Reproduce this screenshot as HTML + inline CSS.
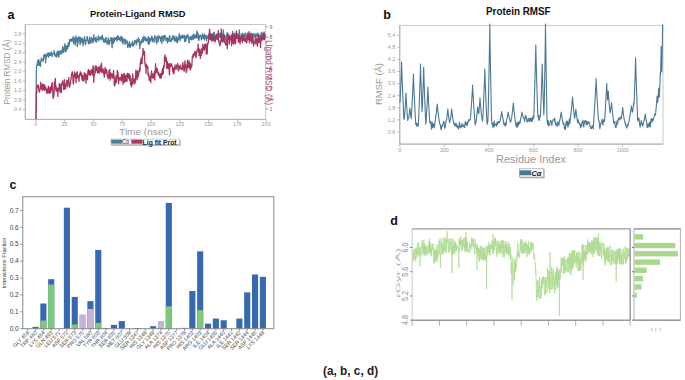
<!DOCTYPE html>
<html><head><meta charset="utf-8"><style>
html,body{margin:0;padding:0;background:#fff;}
body{width:685px;height:380px;overflow:hidden;}
svg{display:block;font-family:"Liberation Sans",sans-serif;}
#w{width:685px;height:380px;}
</style></head><body>
<div id="w"><svg width="685" height="380" viewBox="0 0 685 380">
<defs><filter id="sh" x="-10%" y="-30%" width="130%" height="190%"><feDropShadow dx="0.8" dy="0.9" stdDeviation="0.4" flood-color="#888" flood-opacity="0.7"/></filter></defs>
<rect width="685" height="380" fill="#fff"/>
<text x="7.6" y="19" font-size="12.5" fill="#111" font-weight="bold" text-anchor="start" >a</text>
<text x="137.8" y="17.1" font-size="8.6" fill="#111" font-weight="bold" text-anchor="middle" textLength="95.5" lengthAdjust="spacingAndGlyphs" >Protein-Ligand RMSD</text>
<rect x="25.3" y="24.5" width="240.3" height="94.9" fill="none" stroke="#c8c8c8" stroke-width="1"/>
<path d="M25.3 24.5 V119.4 H265.6" fill="none" stroke="#b0b0b0" stroke-width="1"/>
<line x1="22.8" y1="109.61" x2="25.3" y2="109.61" stroke="#aaa" stroke-width="0.8"/>
<text x="21.3" y="111.41" font-size="5.2" fill="#9a9a9a" font-weight="normal" text-anchor="end" >0.4</text>
<line x1="22.8" y1="100.12" x2="25.3" y2="100.12" stroke="#aaa" stroke-width="0.8"/>
<text x="21.3" y="101.92" font-size="5.2" fill="#9a9a9a" font-weight="normal" text-anchor="end" >0.8</text>
<line x1="22.8" y1="90.64" x2="25.3" y2="90.64" stroke="#aaa" stroke-width="0.8"/>
<text x="21.3" y="92.44" font-size="5.2" fill="#9a9a9a" font-weight="normal" text-anchor="end" >1.2</text>
<line x1="22.8" y1="81.15" x2="25.3" y2="81.15" stroke="#aaa" stroke-width="0.8"/>
<text x="21.3" y="82.95" font-size="5.2" fill="#9a9a9a" font-weight="normal" text-anchor="end" >1.6</text>
<line x1="22.8" y1="71.66" x2="25.3" y2="71.66" stroke="#aaa" stroke-width="0.8"/>
<text x="21.3" y="73.46" font-size="5.2" fill="#9a9a9a" font-weight="normal" text-anchor="end" >2.0</text>
<line x1="22.8" y1="62.17" x2="25.3" y2="62.17" stroke="#aaa" stroke-width="0.8"/>
<text x="21.3" y="63.97" font-size="5.2" fill="#9a9a9a" font-weight="normal" text-anchor="end" >2.4</text>
<line x1="22.8" y1="52.68" x2="25.3" y2="52.68" stroke="#aaa" stroke-width="0.8"/>
<text x="21.3" y="54.48" font-size="5.2" fill="#9a9a9a" font-weight="normal" text-anchor="end" >2.8</text>
<line x1="22.8" y1="43.2" x2="25.3" y2="43.2" stroke="#aaa" stroke-width="0.8"/>
<text x="21.3" y="45" font-size="5.2" fill="#9a9a9a" font-weight="normal" text-anchor="end" >3.2</text>
<line x1="22.8" y1="33.71" x2="25.3" y2="33.71" stroke="#aaa" stroke-width="0.8"/>
<text x="21.3" y="35.51" font-size="5.2" fill="#9a9a9a" font-weight="normal" text-anchor="end" >3.6</text>
<line x1="265.6" y1="108.93" x2="268.1" y2="108.93" stroke="#b07090" stroke-width="0.8"/>
<text x="269.6" y="110.73" font-size="5.2" fill="#a0506e" font-weight="normal" text-anchor="start" >1</text>
<line x1="265.6" y1="98.66" x2="268.1" y2="98.66" stroke="#b07090" stroke-width="0.8"/>
<text x="269.6" y="100.46" font-size="5.2" fill="#a0506e" font-weight="normal" text-anchor="start" >2</text>
<line x1="265.6" y1="88.39" x2="268.1" y2="88.39" stroke="#b07090" stroke-width="0.8"/>
<text x="269.6" y="90.19" font-size="5.2" fill="#a0506e" font-weight="normal" text-anchor="start" >3</text>
<line x1="265.6" y1="78.12" x2="268.1" y2="78.12" stroke="#b07090" stroke-width="0.8"/>
<text x="269.6" y="79.92" font-size="5.2" fill="#a0506e" font-weight="normal" text-anchor="start" >4</text>
<line x1="265.6" y1="67.85" x2="268.1" y2="67.85" stroke="#b07090" stroke-width="0.8"/>
<text x="269.6" y="69.65" font-size="5.2" fill="#a0506e" font-weight="normal" text-anchor="start" >5</text>
<line x1="265.6" y1="57.58" x2="268.1" y2="57.58" stroke="#b07090" stroke-width="0.8"/>
<text x="269.6" y="59.38" font-size="5.2" fill="#a0506e" font-weight="normal" text-anchor="start" >6</text>
<line x1="265.6" y1="47.31" x2="268.1" y2="47.31" stroke="#b07090" stroke-width="0.8"/>
<text x="269.6" y="49.11" font-size="5.2" fill="#a0506e" font-weight="normal" text-anchor="start" >7</text>
<line x1="265.6" y1="37.04" x2="268.1" y2="37.04" stroke="#b07090" stroke-width="0.8"/>
<text x="269.6" y="38.84" font-size="5.2" fill="#a0506e" font-weight="normal" text-anchor="start" >8</text>
<line x1="265.6" y1="26.77" x2="268.1" y2="26.77" stroke="#b07090" stroke-width="0.8"/>
<text x="269.6" y="28.57" font-size="5.2" fill="#a0506e" font-weight="normal" text-anchor="start" >9</text>
<line x1="35.8" y1="119.4" x2="35.8" y2="121.9" stroke="#aaa" stroke-width="0.8"/>
<text x="35.8" y="126.3" font-size="5.2" fill="#9a9a9a" font-weight="normal" text-anchor="middle" >0</text>
<line x1="64.6" y1="119.4" x2="64.6" y2="121.9" stroke="#aaa" stroke-width="0.8"/>
<text x="64.6" y="126.3" font-size="5.2" fill="#9a9a9a" font-weight="normal" text-anchor="middle" >25</text>
<line x1="93.4" y1="119.4" x2="93.4" y2="121.9" stroke="#aaa" stroke-width="0.8"/>
<text x="93.4" y="126.3" font-size="5.2" fill="#9a9a9a" font-weight="normal" text-anchor="middle" >50</text>
<line x1="122.2" y1="119.4" x2="122.2" y2="121.9" stroke="#aaa" stroke-width="0.8"/>
<text x="122.2" y="126.3" font-size="5.2" fill="#9a9a9a" font-weight="normal" text-anchor="middle" >75</text>
<line x1="151" y1="119.4" x2="151" y2="121.9" stroke="#aaa" stroke-width="0.8"/>
<text x="151" y="126.3" font-size="5.2" fill="#9a9a9a" font-weight="normal" text-anchor="middle" >100</text>
<line x1="179.8" y1="119.4" x2="179.8" y2="121.9" stroke="#aaa" stroke-width="0.8"/>
<text x="179.8" y="126.3" font-size="5.2" fill="#9a9a9a" font-weight="normal" text-anchor="middle" >125</text>
<line x1="208.6" y1="119.4" x2="208.6" y2="121.9" stroke="#aaa" stroke-width="0.8"/>
<text x="208.6" y="126.3" font-size="5.2" fill="#9a9a9a" font-weight="normal" text-anchor="middle" >150</text>
<line x1="237.4" y1="119.4" x2="237.4" y2="121.9" stroke="#aaa" stroke-width="0.8"/>
<text x="237.4" y="126.3" font-size="5.2" fill="#9a9a9a" font-weight="normal" text-anchor="middle" >175</text>
<line x1="266.2" y1="119.4" x2="266.2" y2="121.9" stroke="#aaa" stroke-width="0.8"/>
<text x="266.2" y="126.3" font-size="5.2" fill="#9a9a9a" font-weight="normal" text-anchor="middle" >200</text>
<text x="145.4" y="135.2" font-size="9.5" fill="#9a9a9a" font-weight="normal" text-anchor="middle" textLength="52.5" lengthAdjust="spacingAndGlyphs" >Time (nsec)</text>
<text transform="translate(9.9 72) rotate(-90)" x="0" y="0" font-size="9.6" fill="#9a9a9a" text-anchor="middle" textLength="65" lengthAdjust="spacingAndGlyphs">Protein RMSD (Å)</text>
<text transform="translate(266.3 72.5) rotate(90)" x="0" y="0" font-size="9.6" fill="#a0506e" text-anchor="middle" textLength="65" lengthAdjust="spacingAndGlyphs">Ligand RMSD (Å)</text>
<path d="M36 119 L36.3 75 L36.6 65.61 L36.85 65.4 L37.1 65.81 L37.35 63.32 L37.6 60.69 L37.85 62.07 L38.1 63.51 L38.35 65.16 L38.6 61.15 L38.85 59.51 L39.1 62.75 L39.35 63.36 L39.6 65.55 L39.85 65.16 L40.1 62.78 L40.35 61.42 L40.6 66.33 L40.85 62.31 L41.1 59.78 L41.35 58.04 L41.6 59.67 L41.85 60.18 L42.1 59.24 L42.35 59.3 L42.6 59.81 L42.85 60.64 L43.1 61.56 L43.35 59.99 L43.6 55.38 L43.85 58.46 L44.1 55.24 L44.35 56.38 L44.6 54.08 L44.85 55.99 L45.1 55 L45.35 56.46 L45.6 62.87 L45.85 58.45 L46.1 58.51 L46.35 54.17 L46.6 54.55 L46.85 56.4 L47.1 55.45 L47.35 55.89 L47.6 55.39 L47.85 52.92 L48.1 54.99 L48.35 52.9 L48.6 57.27 L48.85 54.04 L49.1 55.1 L49.35 54.01 L49.6 55.35 L49.85 52.66 L50.1 54.79 L50.35 53.38 L50.6 55.6 L50.85 55.13 L51.1 54.02 L51.35 51.84 L51.6 54.09 L51.85 54.29 L52.1 56.65 L52.35 53.54 L52.6 54.27 L52.85 54.44 L53.1 54.05 L53.35 53.78 L53.6 53.63 L53.85 52.05 L54.1 50.69 L54.35 51.42 L54.6 53.6 L54.85 56.16 L55.1 55.99 L55.35 56.04 L55.6 55.48 L55.85 55.1 L56.1 53.93 L56.35 54.64 L56.6 56.81 L56.85 53.44 L57.1 51.51 L57.35 55.98 L57.6 54.16 L57.85 54.91 L58.1 54.95 L58.35 51.02 L58.6 56.57 L58.85 57.19 L59.1 54.26 L59.35 54.33 L59.6 53.1 L59.85 50.66 L60.1 51.22 L60.35 52.21 L60.6 53.87 L60.85 53.52 L61.1 52.01 L61.35 53.87 L61.6 50.27 L61.85 51.91 L62.1 52.97 L62.35 50.48 L62.6 46.55 L62.85 46.77 L63.1 48.95 L63.35 50.15 L63.6 52.43 L63.85 48.12 L64.1 48.44 L64.35 49.69 L64.6 48.42 L64.85 43.53 L65.1 47.83 L65.35 52.03 L65.6 50.73 L65.85 46.31 L66.1 45.54 L66.35 46.28 L66.6 50.75 L66.85 48.45 L67.1 46.44 L67.35 48.34 L67.6 45.59 L67.85 48.2 L68.1 43.96 L68.35 42.75 L68.6 44.49 L68.85 46.31 L69.1 45.28 L69.35 44.07 L69.6 39.35 L69.85 39.69 L70.1 39.77 L70.35 39.63 L70.6 41.48 L70.85 40.04 L71.1 41.45 L71.35 40.28 L71.6 38.78 L71.85 38.84 L72.1 39.45 L72.35 40.77 L72.6 38.76 L72.85 38.67 L73.1 36.57 L73.35 41.76 L73.6 43.41 L73.85 40.94 L74.1 39.63 L74.35 37.83 L74.6 40.08 L74.85 41.07 L75.1 45.32 L75.35 42.99 L75.6 40.18 L75.85 35.95 L76.1 41.98 L76.35 41.71 L76.6 38.11 L76.85 40.34 L77.1 37.63 L77.35 46.61 L77.6 45.14 L77.85 43.57 L78.1 41.56 L78.35 37.02 L78.6 39.36 L78.85 37.4 L79.1 40.9 L79.35 36.79 L79.6 37.76 L79.85 42.24 L80.1 44.64 L80.35 39.97 L80.6 37.65 L80.85 41.54 L81.1 42.85 L81.35 39.72 L81.6 39.2 L81.85 39.02 L82.1 37.99 L82.35 38.62 L82.6 42.61 L82.85 42.91 L83.1 45.68 L83.35 42.47 L83.6 41.25 L83.85 39.17 L84.1 40.12 L84.35 38.13 L84.6 36.53 L84.85 40.79 L85.1 43.74 L85.35 43.59 L85.6 44.5 L85.85 42.72 L86.1 40.2 L86.35 40.89 L86.6 40.23 L86.85 38.56 L87.1 36.85 L87.35 36.66 L87.6 39.47 L87.85 40.76 L88.1 39.99 L88.35 43.43 L88.6 42.2 L88.85 42.56 L89.1 43.92 L89.35 40.42 L89.6 36.96 L89.85 41.05 L90.1 39.65 L90.35 42.99 L90.6 42.21 L90.85 43.19 L91.1 43.02 L91.35 37.36 L91.6 40.79 L91.85 39.23 L92.1 38.47 L92.35 38.78 L92.6 41.19 L92.85 42.21 L93.1 42.76 L93.35 37.7 L93.6 37.97 L93.85 34.53 L94.1 37.71 L94.35 40.14 L94.6 38.29 L94.85 39.56 L95.1 39.92 L95.35 41.52 L95.6 38.46 L95.85 37.33 L96.1 37.01 L96.35 41.76 L96.6 42.08 L96.85 39.77 L97.1 39.6 L97.35 39.27 L97.6 39.28 L97.85 38.44 L98.1 37.84 L98.35 35.79 L98.6 36.22 L98.85 40.79 L99.1 40.17 L99.35 38.99 L99.6 37.98 L99.85 38.12 L100.1 38.77 L100.35 37.2 L100.6 38.39 L100.85 38.99 L101.1 37.37 L101.35 36.82 L101.6 36.32 L101.85 36.11 L102.1 39.95 L102.35 35.05 L102.6 37.51 L102.85 37.8 L103.1 37.98 L103.35 39.54 L103.6 42.2 L103.85 41.17 L104.1 40.49 L104.35 39.43 L104.6 40.09 L104.85 42.46 L105.1 40.79 L105.35 38.75 L105.6 37.84 L105.85 37.87 L106.1 37.35 L106.35 42.06 L106.6 42.29 L106.85 41.25 L107.1 44.22 L107.35 41.17 L107.6 42.88 L107.85 43.61 L108.1 39.32 L108.35 37.83 L108.6 38.57 L108.85 42.43 L109.1 44.58 L109.35 40.44 L109.6 43.46 L109.85 41.76 L110.1 41.12 L110.35 40.47 L110.6 40.62 L110.85 37.68 L111.1 38.18 L111.35 37.82 L111.6 40.99 L111.85 45.14 L112.1 47.77 L112.35 42.64 L112.6 38.07 L112.85 38.96 L113.1 38.16 L113.35 43.5 L113.6 42.55 L113.85 39.61 L114.1 41.75 L114.35 41.65 L114.6 37.32 L114.85 37.87 L115.1 38.56 L115.35 39.23 L115.6 39.61 L115.85 38.75 L116.1 39.41 L116.35 38.05 L116.6 36.9 L116.85 41.13 L117.1 40.28 L117.35 40.06 L117.6 35.95 L117.85 37.22 L118.1 39.52 L118.35 36.13 L118.6 39.53 L118.85 37.75 L119.1 38.6 L119.35 37.77 L119.6 38.1 L119.85 40.06 L120.1 37.68 L120.35 40.9 L120.6 37.59 L120.85 36.29 L121.1 39.19 L121.35 36.88 L121.6 37.58 L121.85 40.46 L122.1 42.2 L122.35 37.14 L122.6 39.96 L122.85 43.78 L123.1 43.92 L123.35 41.32 L123.6 39.85 L123.85 40.08 L124.1 38.63 L124.35 40 L124.6 40.78 L124.85 41.28 L125.1 44.16 L125.35 42.5 L125.6 39.62 L125.85 43.6 L126.1 40.95 L126.35 41.34 L126.6 42.18 L126.85 42.17 L127.1 40.97 L127.35 42.12 L127.6 47.37 L127.85 43.86 L128.1 43.65 L128.35 46.13 L128.6 46.35 L128.85 46.57 L129.1 46.93 L129.35 41.64 L129.6 42.03 L129.85 44.21 L130.1 45.67 L130.35 47.57 L130.6 46.53 L130.85 44.69 L131.1 44.49 L131.35 43.83 L131.6 44.4 L131.85 45.33 L132.1 43.58 L132.35 41.95 L132.6 41.2 L132.85 44.64 L133.1 46.11 L133.35 45.96 L133.6 45.55 L133.85 45.26 L134.1 43.44 L134.35 44 L134.6 40.75 L134.85 41.17 L135.1 40.23 L135.35 42.73 L135.6 41.03 L135.85 41.32 L136.1 42.38 L136.35 44.58 L136.6 41.13 L136.85 39.61 L137.1 42.47 L137.35 39.68 L137.6 41.72 L137.85 40.4 L138.1 40.81 L138.35 37.58 L138.6 41.36 L138.85 40.28 L139.1 39.1 L139.35 44.45 L139.6 43.63 L139.85 48.76 L140.1 44.49 L140.35 41.51 L140.6 41.34 L140.85 44.19 L141.1 41.98 L141.35 42.13 L141.6 42.29 L141.85 39.55 L142.1 40.6 L142.35 39.72 L142.6 37.94 L142.85 41.44 L143.1 42.24 L143.35 41.35 L143.6 39.11 L143.85 36.17 L144.1 39.98 L144.35 40.16 L144.6 37.12 L144.85 39.2 L145.1 37.06 L145.35 39.21 L145.6 40.28 L145.85 41.05 L146.1 41.04 L146.35 40.92 L146.6 38.31 L146.85 38.86 L147.1 38.78 L147.35 39.28 L147.6 40.42 L147.85 41.49 L148.1 43.82 L148.35 36.43 L148.6 39.61 L148.85 39.54 L149.1 44.33 L149.35 43.37 L149.6 37.97 L149.85 40.07 L150.1 39 L150.35 41.55 L150.6 38.44 L150.85 39.19 L151.1 39.38 L151.35 39.5 L151.6 38.57 L151.85 35.79 L152.1 39.28 L152.35 41.53 L152.6 40.23 L152.85 37.9 L153.1 39.45 L153.35 40.68 L153.6 39.65 L153.85 39.59 L154.1 42.33 L154.35 38.34 L154.6 38.02 L154.85 35.27 L155.1 36.64 L155.35 37.03 L155.6 36.71 L155.85 37.11 L156.1 42.09 L156.35 39.93 L156.6 39.31 L156.85 43.59 L157.1 40.67 L157.35 36.37 L157.6 39.01 L157.85 37.31 L158.1 41.72 L158.35 37.62 L158.6 37.47 L158.85 35.4 L159.1 37.98 L159.35 36.7 L159.6 38.08 L159.85 37.95 L160.1 37.43 L160.35 40.27 L160.6 41.25 L160.85 39.88 L161.1 37.51 L161.35 36.34 L161.6 38.54 L161.85 43.44 L162.1 39.59 L162.35 37.6 L162.6 37.06 L162.85 36.09 L163.1 35.98 L163.35 37.43 L163.6 41.13 L163.85 39.61 L164.1 38.08 L164.35 35.38 L164.6 38 L164.85 38.43 L165.1 36.24 L165.35 35.74 L165.6 37.59 L165.85 40.29 L166.1 40.47 L166.35 39.7 L166.6 38.4 L166.85 39.19 L167.1 38.81 L167.35 42.93 L167.6 37.91 L167.85 37.64 L168.1 40.73 L168.35 38.81 L168.6 41.43 L168.85 39.47 L169.1 39.15 L169.35 38.02 L169.6 35.65 L169.85 35.61 L170.1 41.8 L170.35 40.9 L170.6 40.5 L170.85 41.03 L171.1 40.45 L171.35 41.13 L171.6 38.84 L171.85 38.12 L172.1 40.21 L172.35 38.33 L172.6 35.76 L172.85 37 L173.1 36.81 L173.35 38.99 L173.6 37.15 L173.85 35.83 L174.1 36.78 L174.35 40.78 L174.6 39.05 L174.85 38.84 L175.1 38.47 L175.35 38.89 L175.6 40.26 L175.85 41.64 L176.1 36.19 L176.35 40.14 L176.6 38.85 L176.85 37.77 L177.1 42.69 L177.35 39.39 L177.6 42.35 L177.85 41.48 L178.1 37.27 L178.35 38.74 L178.6 39.74 L178.85 38.4 L179.1 33.62 L179.35 35.81 L179.6 36.87 L179.85 35.45 L180.1 40.66 L180.35 38.44 L180.6 37.36 L180.85 37.16 L181.1 36.14 L181.35 35.79 L181.6 37.35 L181.85 38.32 L182.1 37.05 L182.35 37.41 L182.6 34.99 L182.85 37.87 L183.1 36.39 L183.35 37.74 L183.6 36.02 L183.85 36.17 L184.1 37.64 L184.35 35.37 L184.6 41.74 L184.85 39.08 L185.1 38.06 L185.35 36.41 L185.6 40.37 L185.85 41.34 L186.1 39.55 L186.35 35.66 L186.6 35.98 L186.85 38.27 L187.1 36.86 L187.35 35.05 L187.6 34.4 L187.85 34.98 L188.1 36.7 L188.35 36 L188.6 37.05 L188.85 42.82 L189.1 42.84 L189.35 37.36 L189.6 38.13 L189.85 37.89 L190.1 37.36 L190.35 39.47 L190.6 37.52 L190.85 36.84 L191.1 36.5 L191.35 36.91 L191.6 39.74 L191.85 39.73 L192.1 35.59 L192.35 35.89 L192.6 35.29 L192.85 38.22 L193.1 38.09 L193.35 39.33 L193.6 37.9 L193.85 33.79 L194.1 36.94 L194.35 37.6 L194.6 38.37 L194.85 35.1 L195.1 36.65 L195.35 35.68 L195.6 35.34 L195.85 37.24 L196.1 37.89 L196.35 35.69 L196.6 33.31 L196.85 30.98 L197.1 33.86 L197.35 38.17 L197.6 37.38 L197.85 32.81 L198.1 33.91 L198.35 36.79 L198.6 40.23 L198.85 40.44 L199.1 38.94 L199.35 38.08 L199.6 35.32 L199.85 35.53 L200.1 35.83 L200.35 35.06 L200.6 36.42 L200.85 36 L201.1 37.27 L201.35 39.84 L201.6 39.38 L201.85 38.58 L202.1 37.01 L202.35 33.96 L202.6 35.62 L202.85 37.48 L203.1 35.1 L203.35 38.67 L203.6 36.81 L203.85 37.53 L204.1 36.41 L204.35 34.2 L204.6 39.9 L204.85 35.59 L205.1 38.13 L205.35 36.13 L205.6 37.05 L205.85 35.25 L206.1 35.37 L206.35 38.01 L206.6 40.93 L206.85 36.5 L207.1 36.61 L207.35 38.47 L207.6 36.03 L207.85 37.79 L208.1 35.48 L208.35 37.37 L208.6 37.7 L208.85 39.32 L209.1 38.22 L209.35 34.79 L209.6 37.21 L209.85 34.6 L210.1 37.29 L210.35 39.71 L210.6 38.76 L210.85 36.18 L211.1 38.67 L211.35 37.54 L211.6 34.38 L211.85 35 L212.1 38.67 L212.35 36.59 L212.6 36.68 L212.85 35.8 L213.1 32.86 L213.35 34.12 L213.6 36.24 L213.85 36.69 L214.1 36.09 L214.35 32.05 L214.6 37.17 L214.85 37.98 L215.1 38.84 L215.35 39.68 L215.6 36.56 L215.85 35.15 L216.1 36.44 L216.35 39.53 L216.6 34.05 L216.85 34.97 L217.1 34.33 L217.35 36.59 L217.6 39.14 L217.85 36.59 L218.1 33.84 L218.35 35.39 L218.6 35.27 L218.85 32.77 L219.1 36.62 L219.35 35.21 L219.6 37.07 L219.85 33.81 L220.1 37.37 L220.35 33.67 L220.6 37.24 L220.85 32.9 L221.1 37.61 L221.35 35.83 L221.6 32.91 L221.85 34.46 L222.1 36.12 L222.35 34.11 L222.6 34.38 L222.85 35.96 L223.1 35.66 L223.35 29.9 L223.6 33.03 L223.85 35.79 L224.1 36.51 L224.35 38.15 L224.6 35.4 L224.85 40.77 L225.1 39.23 L225.35 37.74 L225.6 38.72 L225.85 38.81 L226.1 37.18 L226.35 35.2 L226.6 37.72 L226.85 37.43 L227.1 32.81 L227.35 32.73 L227.6 35.77 L227.85 36.13 L228.1 36.59 L228.35 37.46 L228.6 36.79 L228.85 39.36 L229.1 36.03 L229.35 35.23 L229.6 36.36 L229.85 37.58 L230.1 38.09 L230.35 39.63 L230.6 36.34 L230.85 38.4 L231.1 37.75 L231.35 34.58 L231.6 35.24 L231.85 39.8 L232.1 38.86 L232.35 36.09 L232.6 31.35 L232.85 32.94 L233.1 33.56 L233.35 35.3 L233.6 40.26 L233.85 38.95 L234.1 37.64 L234.35 34.75 L234.6 33.25 L234.85 34.63 L235.1 34.61 L235.35 41.38 L235.6 37.09 L235.85 35.18 L236.1 37.91 L236.35 36.82 L236.6 33.88 L236.85 37.77 L237.1 36.01 L237.35 33.41 L237.6 35.72 L237.85 36.85 L238.1 35.64 L238.35 37.23 L238.6 38.03 L238.85 34.99 L239.1 31.63 L239.35 29.81 L239.6 33.58 L239.85 37.55 L240.1 38.49 L240.35 39.57 L240.6 40.85 L240.85 37.69 L241.1 38.61 L241.35 33.88 L241.6 36.55 L241.85 36.89 L242.1 36.06 L242.35 35.08 L242.6 33.41 L242.85 35.27 L243.1 38.13 L243.35 35.92 L243.6 36.89 L243.85 34.88 L244.1 35.97 L244.35 33.88 L244.6 35.84 L244.85 35.36 L245.1 36.22 L245.35 34.72 L245.6 33.07 L245.85 34.14 L246.1 37.17 L246.35 39.28 L246.6 36.29 L246.85 37.43 L247.1 37.75 L247.35 37.13 L247.6 33.12 L247.85 35.36 L248.1 33.62 L248.35 37.18 L248.6 37.67 L248.85 37.5 L249.1 31.28 L249.35 35.25 L249.6 36.79 L249.85 33.46 L250.1 36.68 L250.35 36.08 L250.6 35.37 L250.85 34.1 L251.1 33.06 L251.35 33.85 L251.6 41 L251.85 37.88 L252.1 36.81 L252.35 34.78 L252.6 34.13 L252.85 34.04 L253.1 33.37 L253.35 36.57 L253.6 35.47 L253.85 37.31 L254.1 34.02 L254.35 36.94 L254.6 36.1 L254.85 37.18 L255.1 36.05 L255.35 34.14 L255.6 37.57 L255.85 35.57 L256.1 35.44 L256.35 33.96 L256.6 35.58 L256.85 34.99 L257.1 36.11 L257.35 36.63 L257.6 34.8 L257.85 32.77 L258.1 35.65 L258.35 37.62 L258.6 37.88 L258.85 34.39 L259.1 36.59 L259.35 36.94 L259.6 36.87 L259.85 37.14 L260.1 35.77 L260.35 36.34 L260.6 37.93 L260.85 35.69 L261.1 33.08 L261.35 34.77 L261.6 35.95 L261.85 32.39 L262.1 33.42 L262.35 36.24 L262.6 35.79 L262.85 36.11 L263.1 33.58 L263.35 36.92 L263.6 39.74 L263.85 36.92 L264.1 34.89 L264.35 33.36 L264.6 36.81 L264.85 36.49 L265.1 34.62 L265.35 37.88" fill="none" stroke="#4d7b98" stroke-width="1.25" stroke-linejoin="round"/>
<path d="M36 119 L36.4 92 L36.8 93.06 L37.05 85.56 L37.3 87.64 L37.55 86.76 L37.8 84.76 L38.05 85.18 L38.3 85.39 L38.55 86.78 L38.8 88.78 L39.05 91.43 L39.3 89.82 L39.55 92.02 L39.8 90.71 L40.05 89.17 L40.3 87.71 L40.55 84.92 L40.8 82.1 L41.05 85.84 L41.3 86.94 L41.55 88.9 L41.8 89.68 L42.05 85.08 L42.3 85.24 L42.55 84.09 L42.8 90.31 L43.05 89.09 L43.3 89.46 L43.55 86.48 L43.8 84.37 L44.05 85.81 L44.3 87.87 L44.55 90.39 L44.8 85.22 L45.05 89.17 L45.3 86.9 L45.55 87.17 L45.8 87.89 L46.05 87.87 L46.3 90.64 L46.55 92.93 L46.8 92.1 L47.05 89.14 L47.3 91.08 L47.55 91.66 L47.8 93.39 L48.05 92.21 L48.3 86.03 L48.55 86.53 L48.8 87.84 L49.05 92.41 L49.3 90.78 L49.55 93.47 L49.8 92.53 L50.05 87.66 L50.3 89.7 L50.55 91.94 L50.8 92.24 L51.05 86.5 L51.3 90.33 L51.55 88.52 L51.8 83.17 L52.05 86.01 L52.3 82.65 L52.55 83.59 L52.8 92.23 L53.05 98.37 L53.3 96.17 L53.55 93.45 L53.8 96.97 L54.05 93.38 L54.3 88.02 L54.55 81.58 L54.8 89.64 L55.05 82.69 L55.3 78.36 L55.55 83.6 L55.8 87.62 L56.05 86.14 L56.3 91.46 L56.55 89.8 L56.8 90.11 L57.05 90.92 L57.3 87.99 L57.55 89.38 L57.8 96.4 L58.05 88.72 L58.3 89.42 L58.55 90.74 L58.8 87.88 L59.05 88.37 L59.3 83.35 L59.55 85.52 L59.8 87.73 L60.05 91.78 L60.3 92.55 L60.55 88 L60.8 84.66 L61.05 92.52 L61.3 92.26 L61.55 83.38 L61.8 85.05 L62.05 83.79 L62.3 84.17 L62.55 80.76 L62.8 83.5 L63.05 84.06 L63.3 85.03 L63.55 89.25 L63.8 88.09 L64.05 83.11 L64.3 79.65 L64.55 82.1 L64.8 88.08 L65.05 89.4 L65.3 84.87 L65.55 88.54 L65.8 87.36 L66.05 83.53 L66.3 85.22 L66.55 84.03 L66.8 80.2 L67.05 80.78 L67.3 82.65 L67.55 86.72 L67.8 80.61 L68.05 82.25 L68.3 81.95 L68.55 81.44 L68.8 77.41 L69.05 83.55 L69.3 85.62 L69.55 87.09 L69.8 83.89 L70.05 85.72 L70.3 83.16 L70.55 83.46 L70.8 79.16 L71.05 79.15 L71.3 77.19 L71.55 73.98 L71.8 74.56 L72.05 72.43 L72.3 71.75 L72.55 73.74 L72.8 73.73 L73.05 82.04 L73.3 84 L73.55 82.47 L73.8 81 L74.05 75.27 L74.3 76.79 L74.55 71.89 L74.8 72.69 L75.05 73.38 L75.3 73.95 L75.55 77.95 L75.8 74.15 L76.05 82.81 L76.3 76.64 L76.55 78.71 L76.8 71.77 L77.05 77.11 L77.3 72.23 L77.55 74.96 L77.8 75.23 L78.05 77.89 L78.3 78.12 L78.55 77.46 L78.8 75.5 L79.05 81.39 L79.3 75.82 L79.55 75.31 L79.8 73.58 L80.05 74.85 L80.3 71.83 L80.55 72.49 L80.8 75.58 L81.05 73.25 L81.3 75.69 L81.55 73.23 L81.8 78.65 L82.05 75.65 L82.3 80.53 L82.55 78.26 L82.8 75.48 L83.05 77.88 L83.3 79.38 L83.55 81.03 L83.8 81.16 L84.05 79.63 L84.3 72.6 L84.55 76.72 L84.8 74.95 L85.05 75.86 L85.3 78.87 L85.55 73.67 L85.8 78.27 L86.05 83.21 L86.3 79.14 L86.55 74.97 L86.8 78.8 L87.05 76.37 L87.3 78.25 L87.55 79.52 L87.8 71.26 L88.05 74.11 L88.3 69.29 L88.55 70.16 L88.8 74.57 L89.05 70.43 L89.3 70.46 L89.55 71.27 L89.8 73.96 L90.05 74.98 L90.3 75.52 L90.55 72.65 L90.8 70.79 L91.05 73.7 L91.3 70.62 L91.55 69.64 L91.8 73.96 L92.05 70.69 L92.3 69.12 L92.55 74.87 L92.8 73.12 L93.05 65.55 L93.3 67.46 L93.55 76.54 L93.8 82.42 L94.05 74.55 L94.3 74.85 L94.55 74.99 L94.8 73.63 L95.05 66.37 L95.3 72.59 L95.55 72.43 L95.8 70.67 L96.05 65.64 L96.3 66.89 L96.55 68.87 L96.8 69.05 L97.05 70.53 L97.3 69.05 L97.55 72.79 L97.8 72.84 L98.05 67.2 L98.3 66.87 L98.55 69.88 L98.8 67.8 L99.05 73.11 L99.3 68.81 L99.55 69.68 L99.8 71.04 L100.05 66.03 L100.3 71.92 L100.55 69.5 L100.8 67.18 L101.05 66.52 L101.3 63.26 L101.55 63.25 L101.8 72.3 L102.05 70.47 L102.3 69.45 L102.55 70.68 L102.8 72.4 L103.05 68.81 L103.3 69.48 L103.55 71.33 L103.8 74.38 L104.05 73.18 L104.3 77.25 L104.55 72.9 L104.8 71.1 L105.05 67.28 L105.3 70.24 L105.55 73.53 L105.8 71.99 L106.05 71.78 L106.3 69.29 L106.55 69.74 L106.8 70.43 L107.05 71.88 L107.3 76.13 L107.55 75.95 L107.8 77.25 L108.05 78.62 L108.3 74.07 L108.55 78.2 L108.8 75.71 L109.05 70.67 L109.3 71.24 L109.55 73.15 L109.8 69.39 L110.05 80.19 L110.3 76.8 L110.55 78.61 L110.8 72.95 L111.05 75.22 L111.3 76.67 L111.55 74.15 L111.8 76.61 L112.05 76.83 L112.3 78.24 L112.55 73.96 L112.8 78 L113.05 77.08 L113.3 75.14 L113.55 70.42 L113.8 75.2 L114.05 76.47 L114.3 85.65 L114.55 77.84 L114.8 83.69 L115.05 85.1 L115.3 82.86 L115.55 81.53 L115.8 81.81 L116.05 75.7 L116.3 82.56 L116.55 79.51 L116.8 77.1 L117.05 78.52 L117.3 70.41 L117.55 71.99 L117.8 72.96 L118.05 72.05 L118.3 78.42 L118.55 83.78 L118.8 80.67 L119.05 78.5 L119.3 79.73 L119.55 77.54 L119.8 78.72 L120.05 79.98 L120.3 78.47 L120.55 77.38 L120.8 78.52 L121.05 78.91 L121.3 80.98 L121.55 74.9 L121.8 74.01 L122.05 75.68 L122.3 79.31 L122.55 75.05 L122.8 81.37 L123.05 84.32 L123.3 78.58 L123.55 82.37 L123.8 73.7 L124.05 76.89 L124.3 73.3 L124.55 80.44 L124.8 82.24 L125.05 81.84 L125.3 78.35 L125.55 75.47 L125.8 79.33 L126.05 77.83 L126.3 81.06 L126.55 75.15 L126.8 79.44 L127.05 81.26 L127.3 73.25 L127.55 73.61 L127.8 75.54 L128.05 76.6 L128.3 73.51 L128.55 77.91 L128.8 75.91 L129.05 78.55 L129.3 74.04 L129.55 74.54 L129.8 80.62 L130.05 75.28 L130.3 78.7 L130.55 84.58 L130.8 84.68 L131.05 78.12 L131.3 86.94 L131.55 81.4 L131.8 84.16 L132.05 85.26 L132.3 81.7 L132.55 83.48 L132.8 73.56 L133.05 78.96 L133.3 80.72 L133.55 79.54 L133.8 80.37 L134.05 83.4 L134.3 83.85 L134.55 78.9 L134.8 81.36 L135.05 83.21 L135.3 80.33 L135.55 79.96 L135.8 70.76 L136.05 70.05 L136.3 75.67 L136.55 71.56 L136.8 77.24 L137.05 79.99 L137.3 74.02 L137.55 71.16 L137.8 72.95 L138.05 74.68 L138.3 76.93 L138.55 74.22 L138.8 73.88 L139.05 70.11 L139.3 71.57 L139.55 67.87 L139.8 71.21 L140.05 70.52 L140.3 62.07 L140.55 64.39 L140.8 59.79 L141.05 63.7 L141.3 57.92 L141.55 62.13 L141.8 62 L142.05 63.74 L142.3 58.31 L142.55 54.55 L142.8 55.91 L143.05 48.39 L143.3 51.26 L143.55 52.38 L143.8 54.55 L144.05 51.53 L144.3 51.15 L144.55 51.93 L144.8 63.24 L145.05 62.65 L145.3 66.53 L145.55 66.63 L145.8 67.39 L146.05 73.34 L146.3 64.24 L146.55 68 L146.8 67.96 L147.05 67.93 L147.3 66.16 L147.55 66.2 L147.8 67.67 L148.05 75.7 L148.3 73.25 L148.55 73.41 L148.8 74.7 L149.05 77.96 L149.3 80.72 L149.55 79.39 L149.8 78.65 L150.05 80.18 L150.3 76.19 L150.55 77.75 L150.8 82.69 L151.05 76.93 L151.3 74.08 L151.55 70.76 L151.8 74.37 L152.05 77.21 L152.3 74.74 L152.55 73.99 L152.8 78.23 L153.05 75.94 L153.3 77.02 L153.55 73.89 L153.8 77.79 L154.05 77.75 L154.3 74.26 L154.55 71.44 L154.8 80.02 L155.05 71.67 L155.3 69.27 L155.55 63.74 L155.8 71.76 L156.05 72.69 L156.3 72.63 L156.55 68.18 L156.8 71.49 L157.05 70.22 L157.3 68.66 L157.55 71.06 L157.8 73.68 L158.05 73.25 L158.3 72.06 L158.55 75.54 L158.8 75.31 L159.05 73.4 L159.3 75.72 L159.55 75.75 L159.8 77.73 L160.05 78.17 L160.3 77.86 L160.55 73.52 L160.8 77.82 L161.05 78.23 L161.3 73.49 L161.55 77.27 L161.8 74.9 L162.05 70.58 L162.3 71.94 L162.55 68.45 L162.8 74.59 L163.05 68.87 L163.3 73.5 L163.55 66.61 L163.8 65.16 L164.05 67.72 L164.3 64.45 L164.55 56.29 L164.8 58.95 L165.05 54.86 L165.3 61.34 L165.55 58.57 L165.8 60.67 L166.05 61.48 L166.3 57.7 L166.55 62.26 L166.8 68.53 L167.05 62.59 L167.3 61.7 L167.55 64.48 L167.8 68.21 L168.05 63.24 L168.3 64.98 L168.55 66.24 L168.8 68.99 L169.05 64.33 L169.3 73.01 L169.55 74.9 L169.8 65.23 L170.05 63.71 L170.3 66.68 L170.55 64.64 L170.8 64.27 L171.05 65.78 L171.3 64.04 L171.55 63.8 L171.8 66.27 L172.05 65.24 L172.3 67.24 L172.55 70.05 L172.8 71.25 L173.05 68.52 L173.3 73.61 L173.55 67.86 L173.8 69.81 L174.05 73.31 L174.3 69.57 L174.55 70.18 L174.8 66.42 L175.05 64.82 L175.3 66.63 L175.55 68.13 L175.8 68.3 L176.05 69.28 L176.3 68.58 L176.55 67.07 L176.8 64.94 L177.05 65.74 L177.3 66.51 L177.55 66.59 L177.8 63.33 L178.05 69.41 L178.3 71.01 L178.55 68.92 L178.8 66.02 L179.05 69.85 L179.3 67.12 L179.55 66.12 L179.8 68.34 L180.05 65.62 L180.3 66.72 L180.55 65.21 L180.8 68.01 L181.05 68.42 L181.3 69.44 L181.55 68.93 L181.8 68.4 L182.05 68.37 L182.3 69.61 L182.55 64.67 L182.8 62.28 L183.05 65.22 L183.3 66.51 L183.55 65.7 L183.8 70.72 L184.05 69.33 L184.3 71.23 L184.55 68.34 L184.8 62.85 L185.05 60.92 L185.3 67.68 L185.55 66.88 L185.8 64.99 L186.05 69.69 L186.3 72.64 L186.55 69.61 L186.8 71.26 L187.05 66.97 L187.3 63.53 L187.55 60.16 L187.8 67.3 L188.05 61.77 L188.3 63.29 L188.55 65.24 L188.8 67.46 L189.05 60.79 L189.3 63.39 L189.55 62.52 L189.8 69.09 L190.05 66.34 L190.3 63.74 L190.55 69.83 L190.8 67.11 L191.05 67.9 L191.3 66.6 L191.55 64.53 L191.8 66.37 L192.05 62.07 L192.3 56.76 L192.55 55.82 L192.8 58.08 L193.05 54.5 L193.3 56.33 L193.55 55.02 L193.8 53.59 L194.05 55.79 L194.3 54.37 L194.55 53.69 L194.8 51.67 L195.05 51.46 L195.3 51.49 L195.55 54.9 L195.8 57.69 L196.05 57.15 L196.3 54.38 L196.55 52.26 L196.8 52.62 L197.05 50.21 L197.3 51 L197.55 50.28 L197.8 50.88 L198.05 44.01 L198.3 48.7 L198.55 52.28 L198.8 48.29 L199.05 55.4 L199.3 52.97 L199.55 49.95 L199.8 54.82 L200.05 49.34 L200.3 58.38 L200.55 51.18 L200.8 53.56 L201.05 55.81 L201.3 54.32 L201.55 52.04 L201.8 48.65 L202.05 49.09 L202.3 50.28 L202.55 52.93 L202.8 44.16 L203.05 49.54 L203.3 46.13 L203.55 46.39 L203.8 47.98 L204.05 46.88 L204.3 50.14 L204.55 44.48 L204.8 48.78 L205.05 45.72 L205.3 46.48 L205.55 47.5 L205.8 43.74 L206.05 47.8 L206.3 54.27 L206.55 48.06 L206.8 45.05 L207.05 51.11 L207.3 53.6 L207.55 43.19 L207.8 44.52 L208.05 43.02 L208.3 42.99 L208.55 40.45 L208.8 35.08 L209.05 33.19 L209.3 35.44 L209.55 29.05 L209.8 31.83 L210.05 34.56 L210.3 39.35 L210.55 37.66 L210.8 37.06 L211.05 33.69 L211.3 36.06 L211.55 40.28 L211.8 39.24 L212.05 41.3 L212.3 37.04 L212.55 39.46 L212.8 37.3 L213.05 35.32 L213.3 34.98 L213.55 40.46 L213.8 40.65 L214.05 38.54 L214.3 37.7 L214.55 40.73 L214.8 38.14 L215.05 42.07 L215.3 40.98 L215.55 38 L215.8 38.12 L216.05 35.59 L216.3 34.68 L216.55 36.09 L216.8 36.67 L217.05 37.29 L217.3 36.36 L217.55 36.32 L217.8 39.33 L218.05 35.43 L218.3 30.49 L218.55 41.53 L218.8 40.62 L219.05 40.58 L219.3 43.54 L219.55 44.54 L219.8 45.84 L220.05 44.83 L220.3 43.89 L220.55 42.7 L220.8 40.42 L221.05 39.63 L221.3 28.89 L221.55 40.89 L221.8 39.76 L222.05 36.7 L222.3 42.09 L222.55 38.35 L222.8 40.3 L223.05 37.24 L223.3 35.25 L223.55 41.38 L223.8 40.55 L224.05 35.14 L224.3 39.92 L224.55 42.31 L224.8 39.55 L225.05 41.56 L225.3 44.05 L225.55 44.51 L225.8 43.03 L226.05 42.92 L226.3 45.44 L226.55 42.04 L226.8 39.38 L227.05 38.42 L227.3 48.63 L227.55 39.39 L227.8 39.27 L228.05 33.57 L228.3 37.01 L228.55 37.76 L228.8 38.3 L229.05 41.08 L229.3 44.17 L229.55 41.43 L229.8 37.37 L230.05 36.83 L230.3 38.26 L230.55 36.53 L230.8 37.93 L231.05 40.25 L231.3 40.14 L231.55 45.62 L231.8 36.42 L232.05 38.63 L232.3 42.23 L232.55 36.98 L232.8 33.33 L233.05 43.57 L233.3 43.76 L233.55 42.58 L233.8 44.18 L234.05 38.1 L234.3 35.57 L234.55 42.91 L234.8 41.1 L235.05 35.24 L235.3 37.73 L235.55 43.79 L235.8 37.92 L236.05 34.27 L236.3 30.81 L236.55 36.2 L236.8 38.3 L237.05 37.35 L237.3 37.33 L237.55 38.19 L237.8 37.44 L238.05 37.39 L238.3 42.11 L238.55 40.9 L238.8 42 L239.05 35.2 L239.3 35.68 L239.55 41.75 L239.8 41.26 L240.05 43.78 L240.3 37.04 L240.55 41.06 L240.8 38.76 L241.05 39.68 L241.3 37.84 L241.55 36.38 L241.8 35.52 L242.05 38.01 L242.3 42.44 L242.55 37.54 L242.8 37.24 L243.05 35.92 L243.3 35.88 L243.55 40.43 L243.8 38.64 L244.05 36.42 L244.3 40.64 L244.55 41.02 L244.8 41.14 L245.05 40.54 L245.3 38.06 L245.55 41.44 L245.8 38.24 L246.05 39.67 L246.3 39.94 L246.55 43.03 L246.8 40.1 L247.05 42.01 L247.3 35.01 L247.55 38.11 L247.8 39.37 L248.05 39.5 L248.3 33.06 L248.55 39.18 L248.8 37.16 L249.05 36.24 L249.3 42.72 L249.55 39.53 L249.8 41.93 L250.05 34.7 L250.3 39.6 L250.55 39.88 L250.8 40.34 L251.05 36.77 L251.3 39.56 L251.55 38.93 L251.8 43.5 L252.05 39.49 L252.3 34.82 L252.55 41.34 L252.8 37.21 L253.05 38.43 L253.3 41.89 L253.55 45.97 L253.8 44.06 L254.05 43.95 L254.3 42.36 L254.55 41.69 L254.8 40.95 L255.05 41.88 L255.3 38.34 L255.55 40.4 L255.8 43.95 L256.05 42.04 L256.3 40.39 L256.55 42.44 L256.8 38.16 L257.05 38.58 L257.3 46.16 L257.55 44.35 L257.8 43.48 L258.05 40.43 L258.3 37.45 L258.55 35.08 L258.8 37.68 L259.05 42.36 L259.3 39.79 L259.55 41.55 L259.8 38.68 L260.05 38.79 L260.3 39.65 L260.55 47.67 L260.8 41.9 L261.05 36.7 L261.3 40.4 L261.55 38.81 L261.8 39.9 L262.05 36.39 L262.3 40.02 L262.55 36.44 L262.8 38.43 L263.05 36.69 L263.3 35 L263.55 38.39 L263.8 39 L264.05 31.81 L264.3 37.48 L264.55 39.73 L264.8 38.59 L265.05 38.63 L265.3 38.42" fill="none" stroke="#a5345f" stroke-width="1.25" stroke-linejoin="round"/>
<rect x="111" y="139.1" width="68.6" height="5.6" fill="#fff" stroke="#aaa" stroke-width="0.6" filter="url(#sh)"/>
<rect x="111.2" y="139.7" width="11.3" height="4.0" fill="#527c96"/>
<text x="122.4" y="144.4" font-size="6.4" fill="#333" font-weight="normal" text-anchor="start" textLength="6.6" lengthAdjust="spacingAndGlyphs" >Cα</text>
<rect x="131.3" y="139.7" width="11.1" height="4.0" fill="#a63a63"/>
<text x="142.6" y="144.9" font-size="6.4" fill="#222" font-weight="bold" text-anchor="start" textLength="34" lengthAdjust="spacingAndGlyphs" >Lig fit Prot</text>
<text x="383.2" y="19" font-size="12.5" fill="#111" font-weight="bold" text-anchor="start" >b</text>
<text x="518.3" y="15.1" font-size="10" fill="#111" font-weight="bold" text-anchor="middle" textLength="64.5" lengthAdjust="spacingAndGlyphs" >Protein RMSF</text>
<rect x="399.8" y="25.4" width="263.2" height="118.7" fill="none" stroke="#c8c8c8" stroke-width="1"/>
<path d="M399.8 25.4 V144.1 H663" fill="none" stroke="#b0b0b0" stroke-width="1"/>
<line x1="397.3" y1="131.83" x2="399.8" y2="131.83" stroke="#aaa" stroke-width="0.8"/>
<text x="395.3" y="133.73" font-size="5.4" fill="#9a9a9a" font-weight="normal" text-anchor="end" >0.6</text>
<line x1="397.3" y1="119.76" x2="399.8" y2="119.76" stroke="#aaa" stroke-width="0.8"/>
<text x="395.3" y="121.66" font-size="5.4" fill="#9a9a9a" font-weight="normal" text-anchor="end" >1.2</text>
<line x1="397.3" y1="107.68" x2="399.8" y2="107.68" stroke="#aaa" stroke-width="0.8"/>
<text x="395.3" y="109.58" font-size="5.4" fill="#9a9a9a" font-weight="normal" text-anchor="end" >1.8</text>
<line x1="397.3" y1="95.61" x2="399.8" y2="95.61" stroke="#aaa" stroke-width="0.8"/>
<text x="395.3" y="97.51" font-size="5.4" fill="#9a9a9a" font-weight="normal" text-anchor="end" >2.4</text>
<line x1="397.3" y1="83.54" x2="399.8" y2="83.54" stroke="#aaa" stroke-width="0.8"/>
<text x="395.3" y="85.44" font-size="5.4" fill="#9a9a9a" font-weight="normal" text-anchor="end" >3.0</text>
<line x1="397.3" y1="71.47" x2="399.8" y2="71.47" stroke="#aaa" stroke-width="0.8"/>
<text x="395.3" y="73.37" font-size="5.4" fill="#9a9a9a" font-weight="normal" text-anchor="end" >3.6</text>
<line x1="397.3" y1="59.4" x2="399.8" y2="59.4" stroke="#aaa" stroke-width="0.8"/>
<text x="395.3" y="61.3" font-size="5.4" fill="#9a9a9a" font-weight="normal" text-anchor="end" >4.2</text>
<line x1="397.3" y1="47.32" x2="399.8" y2="47.32" stroke="#aaa" stroke-width="0.8"/>
<text x="395.3" y="49.22" font-size="5.4" fill="#9a9a9a" font-weight="normal" text-anchor="end" >4.8</text>
<line x1="397.3" y1="35.25" x2="399.8" y2="35.25" stroke="#aaa" stroke-width="0.8"/>
<text x="395.3" y="37.15" font-size="5.4" fill="#9a9a9a" font-weight="normal" text-anchor="end" >5.4</text>
<line x1="399.8" y1="144.1" x2="399.8" y2="146.6" stroke="#aaa" stroke-width="0.8"/>
<text x="399.8" y="152.2" font-size="5.4" fill="#9a9a9a" font-weight="normal" text-anchor="middle" >0</text>
<line x1="444.38" y1="144.1" x2="444.38" y2="146.6" stroke="#aaa" stroke-width="0.8"/>
<text x="444.38" y="152.2" font-size="5.4" fill="#9a9a9a" font-weight="normal" text-anchor="middle" >200</text>
<line x1="488.96" y1="144.1" x2="488.96" y2="146.6" stroke="#aaa" stroke-width="0.8"/>
<text x="488.96" y="152.2" font-size="5.4" fill="#9a9a9a" font-weight="normal" text-anchor="middle" >400</text>
<line x1="533.54" y1="144.1" x2="533.54" y2="146.6" stroke="#aaa" stroke-width="0.8"/>
<text x="533.54" y="152.2" font-size="5.4" fill="#9a9a9a" font-weight="normal" text-anchor="middle" >600</text>
<line x1="578.12" y1="144.1" x2="578.12" y2="146.6" stroke="#aaa" stroke-width="0.8"/>
<text x="578.12" y="152.2" font-size="5.4" fill="#9a9a9a" font-weight="normal" text-anchor="middle" >800</text>
<line x1="622.7" y1="144.1" x2="622.7" y2="146.6" stroke="#aaa" stroke-width="0.8"/>
<text x="622.7" y="152.2" font-size="5.4" fill="#9a9a9a" font-weight="normal" text-anchor="middle" >1000</text>
<text x="531" y="163.1" font-size="10" fill="#9a9a9a" font-weight="normal" text-anchor="middle" textLength="70" lengthAdjust="spacingAndGlyphs" >Residue Index</text>
<text transform="translate(381.6 84) rotate(-90)" x="0" y="0" font-size="9.2" fill="#9a9a9a" text-anchor="middle" textLength="42" lengthAdjust="spacingAndGlyphs">RMSF (Å)</text>
<path d="M400 102.54 L400.35 95.03 L400.7 87.11 L401.05 78.6 L401.4 69.06 L401.6 62 L401.75 67.56 L402.1 77.54 L402.45 86.51 L402.8 95.01 L403.15 103.23 L403.5 111.26 L403.85 119.14 L404.2 119.25 L404.55 116.61 L404.9 111.85 L405.25 106.65 L405.6 101 L405.95 94.37 L406 93 L406.3 99.26 L406.65 105.09 L407 110.43 L407.35 115.5 L407.7 120.37 L408.05 119.33 L408.4 117.24 L408.75 117.48 L409.1 114.96 L409.45 112.27 L409.8 109.19 L409.9 108 L410.15 110.6 L410.5 113.55 L410.85 116.3 L411.2 118.97 L411.55 113.94 L411.9 107.54 L412.25 100.86 L412.6 93.8 L412.95 86.18 L413.3 77.4 L413.4 74 L413.65 81.44 L414 89.72 L414.35 97.32 L414.7 104.55 L415.05 111.54 L415.4 118.37 L415.75 124.37 L416.1 123.61 L416.45 123.02 L416.8 126.39 L417.15 125.49 L417.5 123.9 L417.85 124.37 L418.2 126.18 L418.55 121.74 L418.9 112.81 L419.25 103.57 L419.6 93.93 L419.95 83.69 L420.3 72.34 L420.5 64 L420.65 70.53 L421 82.19 L421.35 92.57 L421.7 102.33 L422.05 111.67 L422.4 106.06 L422.75 96.94 L423.1 87.27 L423.45 76.64 L423.7 67 L423.8 71.42 L424.15 82.9 L424.5 92.95 L424.85 102.34 L425.2 111.32 L425.55 120 L425.9 124.32 L426.25 118.72 L426.6 112.93 L426.95 106.88 L427.3 100.46 L427.65 93.4 L427.9 87 L428 89.94 L428.35 97.57 L428.7 104.25 L429.05 110.51 L429.4 116.49 L429.75 122.28 L430.1 122.98 L430.45 121.58 L430.8 121.44 L431.15 125.22 L431.5 129.1 L431.85 124.86 L432.2 122.12 L432.55 127.58 L432.9 126.77 L433.25 125.48 L433.6 123.67 L433.95 125.39 L434.3 127.81 L434.65 125.18 L435 122.65 L435.35 120.07 L435.7 117.43 L436.05 114.69 L436.4 111.84 L436.75 108.8 L437.1 105.33 L437.2 104 L437.45 106.9 L437.8 110.1 L438.15 113 L438.5 115.73 L438.85 118.35 L439.2 120.87 L439.55 123.31 L439.9 124.05 L440.25 124.18 L440.6 128.1 L440.95 128.78 L441.3 129.93 L441.65 126.67 L442 125.42 L442.35 126.54 L442.7 125.21 L443.05 123.24 L443.4 123.11 L443.75 121.18 L444.1 121.92 L444.45 126.58 L444.8 128.44 L445.15 126.8 L445.5 124.99 L445.85 122.92 L446.2 120.08 L446.55 120 L446.9 117.68 L447.25 114.63 L447.6 111.34 L447.8 109 L447.95 110.81 L448.3 113.95 L448.65 116.65 L449 119.08 L449.35 121.32 L449.7 122.8 L450.05 120.18 L450.4 119.41 L450.75 117.07 L451.1 114.52 L451.45 111.65 L451.7 109 L451.8 110.23 L452.15 113.47 L452.5 116.37 L452.85 119.14 L453.2 120.09 L453.55 122.66 L453.9 122.4 L454.25 124.89 L454.6 124.88 L454.95 126.03 L455.3 123.34 L455.65 124.29 L456 125.42 L456.35 126.62 L456.7 123.77 L457.05 126.06 L457.4 127.32 L457.75 126.62 L458.1 128.41 L458.45 129.11 L458.8 126.33 L459.15 125.2 L459.5 122.13 L459.85 125.58 L460.2 127.89 L460.55 125.68 L460.9 126.26 L461.25 126.75 L461.6 127.09 L461.95 123.29 L462.3 125.97 L462.65 125.79 L463 126.35 L463.35 124.89 L463.7 125.72 L464.05 127.22 L464.4 126.94 L464.75 127.45 L465.1 122.73 L465.45 121.47 L465.8 122.87 L466.15 124.96 L466.5 122.77 L466.85 125.09 L467.2 125.7 L467.55 121.73 L467.9 122.97 L468.25 121.74 L468.6 119.92 L468.95 119.63 L469.3 120.77 L469.65 120.28 L470 120.1 L470.35 119.07 L470.7 115.09 L471.05 110.4 L471.4 105.5 L471.75 100.35 L472.1 94.81 L472.45 88.54 L472.6 85 L472.8 89.53 L473.15 95.75 L473.5 101.4 L473.85 106.75 L474.2 111.92 L474.55 116.97 L474.9 121.91 L475.25 124.96 L475.6 122.15 L475.95 122.58 L476.3 119.64 L476.65 116.7 L477 113.74 L477.35 110.66 L477.7 107 L478.05 110.51 L478.4 113.18 L478.75 113.73 L479.1 109.73 L479.45 105.6 L479.8 101.17 L480 98 L480.15 100.46 L480.5 104.85 L480.85 108.75 L481.2 112.41 L481.55 115.91 L481.9 117.19 L482.25 119.75 L482.6 121.26 L482.95 116.07 L483.3 108.38 L483.65 100.42 L484 92.08 L484.35 83.15 L484.7 72.94 L484.8 69 L485.05 77.59 L485.4 87.07 L485.75 95.71 L486.1 103.87 L486.45 111.71 L486.8 119.3 L487.15 124.33 L487.5 122.82 L487.85 121.71 L488.2 111.8 L488.55 95.38 L488.9 78.15 L489.25 59.73 L489.6 39.16 L489.8 24 L489.95 35.91 L490.3 57.23 L490.65 76.31 L491 94.33 L491.35 111.66 L491.7 122.58 L492.05 124.24 L492.4 122.95 L492.75 127.05 L493.1 127.75 L493.45 124.18 L493.8 122.68 L494.15 121.15 L494.5 126.38 L494.85 123.71 L495.2 124.71 L495.55 124.16 L495.9 125.08 L496.25 125.16 L496.6 126.14 L496.95 122.06 L497.3 124.77 L497.65 122.66 L498 123.32 L498.35 122.16 L498.7 121.31 L499.05 122.54 L499.4 122.58 L499.75 121.81 L500.1 120.7 L500.45 118.96 L500.8 117.14 L501.15 115.21 L501.5 113.07 L501.7 111.5 L501.85 112.73 L502.2 114.92 L502.55 116.87 L502.9 118.71 L503.25 120.46 L503.6 122.15 L503.95 124.7 L504.3 124.71 L504.65 123.64 L505 126.23 L505.35 123.57 L505.7 122.37 L506.05 125.09 L506.4 121.48 L506.75 119.84 L507.1 118.16 L507.45 116.42 L507.8 114.57 L508.15 112.44 L508.2 112 L508.5 113.99 L508.85 115.81 L509.2 117.45 L509.55 118.99 L509.9 120.44 L510.25 121.98 L510.6 122.26 L510.95 121.18 L511.3 119.5 L511.65 117.61 L512 115.01 L512.35 112.27 L512.7 109.31 L513.05 106.02 L513.3 103 L513.4 104.4 L513.75 108.05 L514.1 111.29 L514.45 114.36 L514.8 117.34 L515.15 120.2 L515.5 122.48 L515.85 125.76 L516.2 122.78 L516.55 124.5 L516.9 127.46 L517.25 127.07 L517.6 122.77 L517.95 121.96 L518.3 126.07 L518.65 122.43 L519 124.08 L519.35 123.42 L519.7 121.32 L520.05 123.3 L520.4 120.11 L520.75 118.76 L521.1 117.24 L521.45 115.31 L521.8 113.34 L522 112 L522.15 113.01 L522.5 114.68 L522.85 116.01 L523.2 117.11 L523.55 117.95 L523.9 118.78 L524.25 118.79 L524.6 121.56 L524.95 118.55 L525.3 115.22 L525.65 118.47 L526 116.14 L526.35 118.64 L526.7 118.99 L527.05 122.15 L527.4 121.15 L527.75 121.28 L528.1 118.9 L528.45 120.01 L528.8 118.49 L529.15 121.48 L529.5 121.27 L529.85 118.55 L530.2 117.96 L530.55 118.53 L530.9 121.32 L531.25 118.51 L531.6 120.99 L531.95 121.61 L532.3 117.74 L532.65 120.09 L533 116.94 L533.35 115.69 L533.7 118.41 L534.05 109.22 L534.4 98.03 L534.75 86.45 L535.1 74.31 L535.45 61.23 L535.8 45 L536.15 61.17 L536.5 74.09 L536.85 85.98 L537.2 97.23 L537.55 108.01 L537.9 116.75 L538.25 114.46 L538.6 119.48 L538.95 119.47 L539.3 120.49 L539.65 116.01 L540 117.38 L540.35 116.34 L540.7 109.32 L541.05 100.3 L541.4 90.77 L541.75 80.48 L542.1 68.61 L542.2 64 L542.45 74.08 L542.8 85.29 L543.15 95.59 L543.5 105.39 L543.85 114.89 L544.2 105.81 L544.55 86.8 L544.9 66.59 L545.25 44.3 L545.5 24 L545.6 33.35 L545.95 57.7 L546.3 79.15 L546.65 99.35 L547 118.79 L547.35 122.42 L547.7 124.59 L548.05 120.33 L548.4 121.96 L548.75 125.89 L549.1 125.92 L549.45 124.76 L549.8 124.69 L550.15 122 L550.5 120.92 L550.85 120.35 L551.2 121.52 L551.55 122.01 L551.9 125.65 L552.25 121.97 L552.6 120.93 L552.95 120.51 L553.3 119.37 L553.65 119.65 L554 119.28 L554.35 120.77 L554.7 118.11 L555.05 123.22 L555.4 121.76 L555.75 125.25 L556.1 125.11 L556.45 125.02 L556.8 123.62 L557.15 126.45 L557.5 121.88 L557.85 123.84 L558.2 122.1 L558.55 124.14 L558.9 125.52 L559.25 122.18 L559.6 121.02 L559.95 119.31 L560.3 117.95 L560.65 115.96 L561 113.69 L561.2 112 L561.35 113.34 L561.7 115.77 L562.05 117.99 L562.4 120.12 L562.75 122.2 L563.1 124.26 L563.45 123.83 L563.8 122.97 L564.15 125.74 L564.5 128.99 L564.85 128.42 L565.2 126.5 L565.55 129.35 L565.9 123.58 L566.25 121.27 L566.6 125.24 L566.95 124.28 L567.3 121.12 L567.65 123.18 L568 127.15 L568.35 125.45 L568.7 123.37 L569.05 120.48 L569.4 118.9 L569.75 124 L570.1 121.27 L570.45 118.17 L570.8 115.01 L571.15 111.76 L571.5 108.41 L571.85 104.89 L572.2 101.08 L572.5 97 L572.55 97.89 L572.9 102.18 L573.25 105.81 L573.6 109.17 L573.95 112.35 L574.3 115.39 L574.65 118.33 L575 116.14 L575.35 113.75 L575.7 111.03 L575.9 109 L576.05 110.61 L576.4 113.52 L576.75 116.17 L577.1 118.71 L577.45 121.2 L577.8 122.58 L578.15 119.57 L578.5 122.02 L578.85 122.82 L579.2 123.87 L579.55 123.02 L579.9 124.5 L580.25 125.9 L580.6 127.91 L580.95 124.52 L581.3 124.04 L581.65 126.57 L582 123.43 L582.35 121.29 L582.7 121.76 L583.05 120.41 L583.4 124.74 L583.75 127.06 L584.1 124.52 L584.45 122.11 L584.8 120.72 L585.15 121.3 L585.5 120.45 L585.85 122.57 L586.2 124.62 L586.55 123.21 L586.9 121.3 L587.25 125.05 L587.6 122.11 L587.95 121.91 L588.3 122.47 L588.65 123.39 L589 121.88 L589.35 123.54 L589.7 123.56 L590.05 126.71 L590.4 126.57 L590.75 128.86 L591.1 128.08 L591.45 128.41 L591.8 127.16 L592.15 125.57 L592.5 127.46 L592.85 127.08 L593.2 128.97 L593.55 123.83 L593.9 118.37 L594.25 112.82 L594.6 107.15 L594.95 101.3 L595.3 95.29 L595.65 88.85 L596 81.46 L596.1 78.6 L596.35 84.84 L596.7 91.75 L597.05 98.07 L597.4 104.05 L597.75 109.82 L598.1 115.42 L598.45 120.05 L598.8 120.03 L599.15 121.68 L599.5 126.05 L599.85 128.7 L600.2 127.32 L600.55 123.75 L600.9 123.41 L601.25 122.62 L601.6 121.89 L601.95 119.13 L602.3 121.82 L602.65 124.62 L603 125 L603.35 120.51 L603.7 121.44 L604.05 119.14 L604.4 121.8 L604.75 119.18 L605.1 113.42 L605.45 107.56 L605.8 101.53 L606.15 95.24 L606.5 88.37 L606.7 83.4 L606.85 87.26 L607.2 94.07 L607.55 100.02 L607.9 97.82 L608.25 92.15 L608.3 91 L608.6 96.23 L608.95 100.99 L609.3 105.25 L609.65 109.2 L610 112.9 L610.35 111.6 L610.7 109.43 L611.05 106.92 L611.4 103.84 L611.5 102.6 L611.75 105.38 L612.1 108.63 L612.45 111.76 L612.8 114.89 L613.15 118.05 L613.5 120.42 L613.85 123.52 L614.2 121.54 L614.55 121.71 L614.9 121.31 L615.25 126.2 L615.6 127.23 L615.95 127.68 L616.3 126.15 L616.65 123.83 L617 120.87 L617.35 124.38 L617.7 123.44 L618.05 119.71 L618.4 118.9 L618.75 117.95 L619.1 120.12 L619.45 119.19 L619.8 118.25 L620.15 117.21 L620.2 117 L620.5 118 L620.85 118.99 L621.2 118.85 L621.55 116.64 L621.9 114.27 L622.25 111.69 L622.6 108.68 L622.7 107.5 L622.95 110.09 L623.3 113 L623.65 115.7 L624 118.3 L624.35 120.45 L624.7 121.56 L625.05 122.76 L625.4 124.75 L625.75 123.39 L626.1 126.87 L626.45 127.16 L626.8 128 L627.15 126.64 L627.5 125.79 L627.85 124.38 L628.2 125.54 L628.55 122.87 L628.9 121.9 L629.25 119.87 L629.6 117.82 L629.95 115.75 L630.3 113.59 L630.65 111.38 L631 109.1 L631.35 106.52 L631.4 106 L631.7 108.34 L632.05 110.42 L632.4 112.25 L632.75 110.85 L633.1 107.92 L633.45 104.74 L633.6 103 L633.8 105.18 L634.15 102.57 L634.5 93.02 L634.85 83.09 L635.2 72.6 L635.55 60.26 L635.6 57.7 L635.9 69.5 L636.25 80.6 L636.6 90.92 L636.95 100.81 L637.3 110.44 L637.65 119.88 L638 121.01 L638.35 117.8 L638.7 119.32 L639.05 118.68 L639.4 121.98 L639.75 125.42 L640.1 127.15 L640.45 125.76 L640.8 123.55 L641.15 120.61 L641.5 123.47 L641.85 123.83 L642.2 125.19 L642.55 123.39 L642.9 126.29 L643.25 122.82 L643.6 121.96 L643.95 121.11 L644.3 119.42 L644.65 117.59 L645 115.53 L645.2 114 L645.35 115.2 L645.7 117.33 L646.05 119.24 L646.4 121.02 L646.75 122.72 L647.1 127.54 L647.45 127.22 L647.8 124.86 L648.15 123.85 L648.5 124.14 L648.85 126.96 L649.2 123.92 L649.55 122.39 L649.9 124.03 L650.25 127.15 L650.6 122.79 L650.95 119.55 L651.3 118.55 L651.65 121.14 L652 122.45 L652.35 119.88 L652.7 118.62 L653.05 120.53 L653.4 119.2 L653.75 117.92 L654.1 116.66 L654.45 115.42 L654.8 114 L655.15 115.29 L655.5 114.8 L655.85 111.02 L656.2 107.19 L656.55 103.25 L656.9 99.02 L657.1 96 L657.25 98.33 L657.6 102.37 L657.95 100.21 L658.3 95.07 L658.65 89.19 L658.7 88 L659 93.4 L659.35 97.12 L659.7 88.86 L660.05 79.94 L660.3 72 L660.4 75.59 L660.75 67.01 L661.1 52.16 L661.2 46.5 L661.45 58.73 L661.8 72 L662.15 54.71 L662.5 32.86 L662.6 24.5" fill="none" stroke="#4b7896" stroke-width="1.1" stroke-linejoin="round"/>
<rect x="519.3" y="168.8" width="24.4" height="8.2" fill="#fff" stroke="#999" stroke-width="0.6" filter="url(#sh)"/>
<rect x="519.5" y="170.3" width="11.8" height="5.0" fill="#4b7896"/>
<text x="531.5" y="176" font-size="7.6" fill="#111" font-style="italic" font-weight="bold" textLength="10" lengthAdjust="spacingAndGlyphs">Cα</text>
<text x="9.4" y="189.2" font-size="12.5" fill="#111" font-weight="bold" text-anchor="start" >c</text>
<rect x="32.49" y="326.84" width="6.1" height="1.86" fill="#3868b0"/>
<rect x="40.33" y="303.52" width="6.1" height="25.18" fill="#3868b0"/>
<rect x="40.33" y="320.59" width="6.1" height="8.11" fill="#7ec87a"/>
<rect x="48.17" y="279.18" width="6.1" height="49.52" fill="#3868b0"/>
<rect x="48.17" y="284.59" width="6.1" height="44.11" fill="#7ec87a"/>
<rect x="63.85" y="207.7" width="6.1" height="121" fill="#3868b0"/>
<rect x="71.69" y="296.93" width="6.1" height="31.77" fill="#3868b0"/>
<rect x="71.69" y="324.47" width="6.1" height="4.23" fill="#7ec87a"/>
<rect x="79.53" y="314.67" width="6.1" height="14.03" fill="#c3b3da"/>
<rect x="79.53" y="314.67" width="6.1" height="14.03" fill="#c3b3da"/>
<rect x="87.37" y="301.15" width="6.1" height="27.55" fill="#3868b0"/>
<rect x="87.37" y="308.93" width="6.1" height="19.77" fill="#c3b3da"/>
<rect x="95.21" y="249.95" width="6.1" height="78.75" fill="#3868b0"/>
<rect x="95.21" y="322.95" width="6.1" height="5.75" fill="#7ec87a"/>
<rect x="103.05" y="328.02" width="6.1" height="0.68" fill="#3868b0"/>
<rect x="110.89" y="324.81" width="6.1" height="3.89" fill="#3868b0"/>
<rect x="118.73" y="321.09" width="6.1" height="7.6" fill="#3868b0"/>
<rect x="134.41" y="328.02" width="6.1" height="0.68" fill="#3868b0"/>
<rect x="150.09" y="326.16" width="6.1" height="2.53" fill="#3868b0"/>
<rect x="157.93" y="321.09" width="6.1" height="7.6" fill="#c3b3da"/>
<rect x="157.93" y="321.09" width="6.1" height="7.6" fill="#c3b3da"/>
<rect x="165.77" y="202.96" width="6.1" height="125.74" fill="#3868b0"/>
<rect x="165.77" y="306.39" width="6.1" height="22.31" fill="#7ec87a"/>
<rect x="181.45" y="327.85" width="6.1" height="0.84" fill="#c3b3da"/>
<rect x="181.45" y="327.85" width="6.1" height="0.84" fill="#c3b3da"/>
<rect x="189.29" y="291.01" width="6.1" height="37.69" fill="#3868b0"/>
<rect x="197.13" y="251.3" width="6.1" height="77.4" fill="#3868b0"/>
<rect x="197.13" y="310.11" width="6.1" height="18.59" fill="#7ec87a"/>
<rect x="204.97" y="323.63" width="6.1" height="5.07" fill="#3868b0"/>
<rect x="212.81" y="318.56" width="6.1" height="10.14" fill="#3868b0"/>
<rect x="220.65" y="320.25" width="6.1" height="8.45" fill="#3868b0"/>
<rect x="236.33" y="318.56" width="6.1" height="10.14" fill="#3868b0"/>
<rect x="244.17" y="292.37" width="6.1" height="36.34" fill="#3868b0"/>
<rect x="244.17" y="327.85" width="6.1" height="0.84" fill="#7ec87a"/>
<rect x="252.01" y="274.45" width="6.1" height="54.25" fill="#3868b0"/>
<rect x="259.85" y="276.82" width="6.1" height="51.88" fill="#3868b0"/>
<rect x="22.8" y="196.7" width="251" height="132" fill="none" stroke="#8a8a8a" stroke-width="1"/>
<line x1="20.3" y1="328.7" x2="22.8" y2="328.7" stroke="#777" stroke-width="0.8"/>
<text x="18.8" y="330.9" font-size="6.6" fill="#444" font-weight="normal" text-anchor="end" >0.0</text>
<line x1="20.3" y1="311.8" x2="22.8" y2="311.8" stroke="#777" stroke-width="0.8"/>
<text x="18.8" y="314" font-size="6.6" fill="#444" font-weight="normal" text-anchor="end" >0.1</text>
<line x1="20.3" y1="294.9" x2="22.8" y2="294.9" stroke="#777" stroke-width="0.8"/>
<text x="18.8" y="297.1" font-size="6.6" fill="#444" font-weight="normal" text-anchor="end" >0.2</text>
<line x1="20.3" y1="278" x2="22.8" y2="278" stroke="#777" stroke-width="0.8"/>
<text x="18.8" y="280.2" font-size="6.6" fill="#444" font-weight="normal" text-anchor="end" >0.3</text>
<line x1="20.3" y1="261.1" x2="22.8" y2="261.1" stroke="#777" stroke-width="0.8"/>
<text x="18.8" y="263.3" font-size="6.6" fill="#444" font-weight="normal" text-anchor="end" >0.4</text>
<line x1="20.3" y1="244.2" x2="22.8" y2="244.2" stroke="#777" stroke-width="0.8"/>
<text x="18.8" y="246.4" font-size="6.6" fill="#444" font-weight="normal" text-anchor="end" >0.5</text>
<line x1="20.3" y1="227.3" x2="22.8" y2="227.3" stroke="#777" stroke-width="0.8"/>
<text x="18.8" y="229.5" font-size="6.6" fill="#444" font-weight="normal" text-anchor="end" >0.6</text>
<line x1="20.3" y1="210.4" x2="22.8" y2="210.4" stroke="#777" stroke-width="0.8"/>
<text x="18.8" y="212.6" font-size="6.6" fill="#444" font-weight="normal" text-anchor="end" >0.7</text>
<line x1="27.7" y1="328.7" x2="27.7" y2="330.9" stroke="#777" stroke-width="0.8"/>
<text transform="translate(29.5 333.2) rotate(-45)" x="0" y="0" font-size="5.3" fill="#3a3a3a" text-anchor="end">GLY 458</text>
<line x1="35.54" y1="328.7" x2="35.54" y2="330.9" stroke="#777" stroke-width="0.8"/>
<text transform="translate(37.34 333.2) rotate(-45)" x="0" y="0" font-size="5.3" fill="#3a3a3a" text-anchor="end">TRP 460</text>
<line x1="43.38" y1="328.7" x2="43.38" y2="330.9" stroke="#777" stroke-width="0.8"/>
<text transform="translate(45.18 333.2) rotate(-45)" x="0" y="0" font-size="5.3" fill="#3a3a3a" text-anchor="end">LYS 464</text>
<line x1="51.22" y1="328.7" x2="51.22" y2="330.9" stroke="#777" stroke-width="0.8"/>
<text transform="translate(53.02 333.2) rotate(-45)" x="0" y="0" font-size="5.3" fill="#3a3a3a" text-anchor="end">GLN 493</text>
<line x1="59.06" y1="328.7" x2="59.06" y2="330.9" stroke="#777" stroke-width="0.8"/>
<text transform="translate(60.86 333.2) rotate(-45)" x="0" y="0" font-size="5.3" fill="#3a3a3a" text-anchor="end">LEU 571</text>
<line x1="66.9" y1="328.7" x2="66.9" y2="330.9" stroke="#777" stroke-width="0.8"/>
<text transform="translate(68.7 333.2) rotate(-45)" x="0" y="0" font-size="5.3" fill="#3a3a3a" text-anchor="end">ASP 572</text>
<line x1="74.74" y1="328.7" x2="74.74" y2="330.9" stroke="#777" stroke-width="0.8"/>
<text transform="translate(76.54 333.2) rotate(-45)" x="0" y="0" font-size="5.3" fill="#3a3a3a" text-anchor="end">SER 573</text>
<line x1="82.58" y1="328.7" x2="82.58" y2="330.9" stroke="#777" stroke-width="0.8"/>
<text transform="translate(84.38 333.2) rotate(-45)" x="0" y="0" font-size="5.3" fill="#3a3a3a" text-anchor="end">PRO 575</text>
<line x1="90.42" y1="328.7" x2="90.42" y2="330.9" stroke="#777" stroke-width="0.8"/>
<text transform="translate(92.22 333.2) rotate(-45)" x="0" y="0" font-size="5.3" fill="#3a3a3a" text-anchor="end">VAL 580</text>
<line x1="98.26" y1="328.7" x2="98.26" y2="330.9" stroke="#777" stroke-width="0.8"/>
<text transform="translate(100.06 333.2) rotate(-45)" x="0" y="0" font-size="5.3" fill="#3a3a3a" text-anchor="end">TYR 603</text>
<line x1="106.1" y1="328.7" x2="106.1" y2="330.9" stroke="#777" stroke-width="0.8"/>
<text transform="translate(107.9 333.2) rotate(-45)" x="0" y="0" font-size="5.3" fill="#3a3a3a" text-anchor="end">THR 604</text>
<line x1="113.94" y1="328.7" x2="113.94" y2="330.9" stroke="#777" stroke-width="0.8"/>
<text transform="translate(115.74 333.2) rotate(-45)" x="0" y="0" font-size="5.3" fill="#3a3a3a" text-anchor="end">SER 605</text>
<line x1="121.78" y1="328.7" x2="121.78" y2="330.9" stroke="#777" stroke-width="0.8"/>
<text transform="translate(123.58 333.2) rotate(-45)" x="0" y="0" font-size="5.3" fill="#3a3a3a" text-anchor="end">MET 607</text>
<line x1="129.62" y1="328.7" x2="129.62" y2="330.9" stroke="#777" stroke-width="0.8"/>
<text transform="translate(131.42 333.2) rotate(-45)" x="0" y="0" font-size="5.3" fill="#3a3a3a" text-anchor="end">GLU 608</text>
<line x1="137.46" y1="328.7" x2="137.46" y2="330.9" stroke="#777" stroke-width="0.8"/>
<text transform="translate(139.26 333.2) rotate(-45)" x="0" y="0" font-size="5.3" fill="#3a3a3a" text-anchor="end">SER 1347</text>
<line x1="145.3" y1="328.7" x2="145.3" y2="330.9" stroke="#777" stroke-width="0.8"/>
<text transform="translate(147.1 333.2) rotate(-45)" x="0" y="0" font-size="5.3" fill="#3a3a3a" text-anchor="end">HIS 1348</text>
<line x1="153.14" y1="328.7" x2="153.14" y2="330.9" stroke="#777" stroke-width="0.8"/>
<text transform="translate(154.94 333.2) rotate(-45)" x="0" y="0" font-size="5.3" fill="#3a3a3a" text-anchor="end">GLY 1349</text>
<line x1="160.98" y1="328.7" x2="160.98" y2="330.9" stroke="#777" stroke-width="0.8"/>
<text transform="translate(162.78 333.2) rotate(-45)" x="0" y="0" font-size="5.3" fill="#3a3a3a" text-anchor="end">ALA 1374</text>
<line x1="168.82" y1="328.7" x2="168.82" y2="330.9" stroke="#777" stroke-width="0.8"/>
<text transform="translate(170.62 333.2) rotate(-45)" x="0" y="0" font-size="5.3" fill="#3a3a3a" text-anchor="end">HIS 1375</text>
<line x1="176.66" y1="328.7" x2="176.66" y2="330.9" stroke="#777" stroke-width="0.8"/>
<text transform="translate(178.46 333.2) rotate(-45)" x="0" y="0" font-size="5.3" fill="#3a3a3a" text-anchor="end">ASP 1377</text>
<line x1="184.5" y1="328.7" x2="184.5" y2="330.9" stroke="#777" stroke-width="0.8"/>
<text transform="translate(186.3 333.2) rotate(-45)" x="0" y="0" font-size="5.3" fill="#3a3a3a" text-anchor="end">PRO 1378</text>
<line x1="192.34" y1="328.7" x2="192.34" y2="330.9" stroke="#777" stroke-width="0.8"/>
<text transform="translate(194.14 333.2) rotate(-45)" x="0" y="0" font-size="5.3" fill="#3a3a3a" text-anchor="end">HIS 1402</text>
<line x1="200.18" y1="328.7" x2="200.18" y2="330.9" stroke="#777" stroke-width="0.8"/>
<text transform="translate(201.98 333.2) rotate(-45)" x="0" y="0" font-size="5.3" fill="#3a3a3a" text-anchor="end">ARG 1403</text>
<line x1="208.02" y1="328.7" x2="208.02" y2="330.9" stroke="#777" stroke-width="0.8"/>
<text transform="translate(209.82 333.2) rotate(-45)" x="0" y="0" font-size="5.3" fill="#3a3a3a" text-anchor="end">ILE 1404</text>
<line x1="215.86" y1="328.7" x2="215.86" y2="330.9" stroke="#777" stroke-width="0.8"/>
<text transform="translate(217.66 333.2) rotate(-45)" x="0" y="0" font-size="5.3" fill="#3a3a3a" text-anchor="end">GLU 1405</text>
<line x1="223.7" y1="328.7" x2="223.7" y2="330.9" stroke="#777" stroke-width="0.8"/>
<text transform="translate(225.5 333.2) rotate(-45)" x="0" y="0" font-size="5.3" fill="#3a3a3a" text-anchor="end">ALA 1440</text>
<line x1="231.54" y1="328.7" x2="231.54" y2="330.9" stroke="#777" stroke-width="0.8"/>
<text transform="translate(233.34 333.2) rotate(-45)" x="0" y="0" font-size="5.3" fill="#3a3a3a" text-anchor="end">ILE 1441</text>
<line x1="239.38" y1="328.7" x2="239.38" y2="330.9" stroke="#777" stroke-width="0.8"/>
<text transform="translate(241.18 333.2) rotate(-45)" x="0" y="0" font-size="5.3" fill="#3a3a3a" text-anchor="end">SER 1442</text>
<line x1="247.22" y1="328.7" x2="247.22" y2="330.9" stroke="#777" stroke-width="0.8"/>
<text transform="translate(249.02 333.2) rotate(-45)" x="0" y="0" font-size="5.3" fill="#3a3a3a" text-anchor="end">SER 1444</text>
<line x1="255.06" y1="328.7" x2="255.06" y2="330.9" stroke="#777" stroke-width="0.8"/>
<text transform="translate(256.86 333.2) rotate(-45)" x="0" y="0" font-size="5.3" fill="#3a3a3a" text-anchor="end">ASP 1445</text>
<line x1="262.9" y1="328.7" x2="262.9" y2="330.9" stroke="#777" stroke-width="0.8"/>
<text transform="translate(264.7 333.2) rotate(-45)" x="0" y="0" font-size="5.3" fill="#3a3a3a" text-anchor="end">LYS 1448</text>
<text transform="translate(6.1 263) rotate(-90)" x="0" y="0" font-size="4.8" fill="#3a3a3a" text-anchor="middle" textLength="51" lengthAdjust="spacingAndGlyphs">Interactions Fraction</text>
<text x="390.3" y="224.8" font-size="12.5" fill="#111" font-weight="bold" text-anchor="start" >d</text>
<path d="M412.6 250.3 L412.8 262.16 L413 258.14 L413.2 252.49 L413.4 256.64 L413.6 258.83 L413.8 255.37 L414 248.79 L414.2 249.53 L414.4 258.08 L414.6 259.66 L414.8 259.8 L415 248.72 L415.2 258.65 L415.4 256.35 L415.6 259.72 L415.8 261.42 L416 248.19 L416.2 253.82 L416.4 258.05 L416.6 248.44 L416.8 254.09 L417 253.81 L417.2 249.04 L417.4 243.23 L417.6 253.84 L417.8 254.06 L418 256.67 L418.2 247.26 L418.4 241.86 L418.6 254.84 L418.8 254 L419 251.48 L419.2 254.68 L419.4 252.83 L419.6 247.47 L419.8 257.83 L420 266 L420.2 252.88 L420.4 248.64 L420.6 246.76 L420.8 252.99 L421 256.02 L421.2 256.04 L421.4 255.07 L421.6 253.07 L421.8 242.49 L422 241.63 L422.2 240.14 L422.4 248.24 L422.6 243.37 L422.8 248.87 L423 253.69 L423.2 249.27 L423.4 245.88 L423.6 254.04 L423.8 239.9 L424 255.81 L424.2 248.63 L424.4 243.05 L424.6 253.92 L424.8 247.9 L425 245.3 L425.2 255.71 L425.4 246.15 L425.6 254.7 L425.8 254.62 L426 246.06 L426.2 246.65 L426.4 254.06 L426.6 250.01 L426.8 245.6 L427 248.97 L427.2 248.34 L427.4 255.33 L427.6 254.29 L427.8 252.97 L428 252.82 L428.2 253.06 L428.4 245.37 L428.6 253.55 L428.8 253.35 L429 241.28 L429.2 248.67 L429.4 252.9 L429.6 238.92 L429.8 252.19 L430 242.91 L430.2 250.17 L430.4 249.19 L430.6 253.57 L430.8 243.49 L431 253.71 L431.2 256.43 L431.4 253.93 L431.6 247.3 L431.8 254.34 L432 252.96 L432.2 248.44 L432.4 244.11 L432.6 248.53 L432.8 246.28 L433 243.82 L433.2 248.81 L433.4 249.75 L433.6 248.32 L433.8 263.39 L434 258.94 L434.2 263.16 L434.4 251.44 L434.6 260.81 L434.8 248.7 L435 255.12 L435.2 262.57 L435.4 250.35 L435.6 255.8 L435.8 257.89 L436 250.36 L436.2 260.15 L436.4 249.05 L436.6 250.53 L436.8 259.88 L437 244.67 L437.2 261.78 L437.4 249.92 L437.6 255.96 L437.8 252.35 L438 256.47 L438.2 256.29 L438.4 250.76 L438.6 241.33 L438.8 243.73 L439 243.81 L439.2 245.37 L439.4 251.73 L439.6 254.14 L439.8 248.53 L440 238.69 L440.2 253.68 L440.4 268 L440.6 255.89 L440.8 253.49 L441 254.97 L441.2 246.32 L441.4 242.75 L441.6 247.39 L441.8 238.37 L442 253.41 L442.2 247.74 L442.4 245.98 L442.6 253.78 L442.8 253.6 L443 246.62 L443.2 242.94 L443.4 253.86 L443.6 240.69 L443.8 237.36 L444 238.5 L444.2 237.79 L444.4 241.52 L444.6 251.12 L444.8 241.05 L445 241.13 L445.2 237.81 L445.4 238.64 L445.6 253.09 L445.8 248.45 L446 252.87 L446.2 251.91 L446.4 239.79 L446.6 248.85 L446.8 243.06 L447 231 L447.2 236.12 L447.4 242.18 L447.6 243.12 L447.8 241.29 L448 237.97 L448.2 242.45 L448.4 242.69 L448.6 252.41 L448.8 253 L449 242.08 L449.2 240.24 L449.4 239.01 L449.6 251.69 L449.8 251.38 L450 249.05 L450.2 246.96 L450.4 248.37 L450.6 241.78 L450.8 244.56 L451 239.01 L451.2 238.36 L451.4 242.6 L451.6 253.58 L451.8 246.78 L452 273 L452.2 246.75 L452.4 254.83 L452.6 255.43 L452.8 250.66 L453 239.23 L453.2 253.7 L453.4 239.34 L453.6 248.32 L453.8 246.26 L454 252.1 L454.2 247.98 L454.4 245.02 L454.6 254.33 L454.8 242.42 L455 250.69 L455.2 251.54 L455.4 240.94 L455.6 248.28 L455.8 244.35 L456 243.85 L456.2 248.55 L456.4 244.94 L456.6 251.14 L456.8 245.65 L457 248.66 L457.2 247.96 L457.4 246.6 L457.6 246.85 L457.8 247.24 L458 246.97 L458.2 247.42 L458.4 247.03 L458.6 252.44 L458.8 268 L459 240.15 L459.2 238.62 L459.4 243.02 L459.6 250.51 L459.8 240.29 L460 242.24 L460.2 239.28 L460.4 245.12 L460.6 244.25 L460.8 236.53 L461 245.2 L461.2 245.08 L461.4 240.46 L461.6 249.57 L461.8 239.77 L462 246.99 L462.2 243.46 L462.4 251.61 L462.6 240.35 L462.8 247.19 L463 245.81 L463.2 238.61 L463.4 240.52 L463.6 239.92 L463.8 247.06 L464 244.47 L464.2 237.35 L464.4 248.76 L464.6 242.98 L464.8 250.43 L465 249.19 L465.2 252.28 L465.4 238.57 L465.6 247.32 L465.8 249.27 L466 232 L466.2 247.42 L466.4 237.21 L466.6 237.31 L466.8 252.18 L467 246.83 L467.2 241.59 L467.4 250.58 L467.6 242.35 L467.8 248.63 L468 250 L468.2 251.61 L468.4 250.93 L468.6 249.83 L468.8 251.3 L469 253.05 L469.2 251.88 L469.4 249.8 L469.6 242.24 L469.8 250.46 L470 251.5 L470.2 249.85 L470.4 248.6 L470.6 244.24 L470.8 245.34 L471 245.72 L471.2 245.4 L471.4 246.07 L471.6 237.17 L471.8 249.36 L472 245.44 L472.2 240.13 L472.4 244.81 L472.6 245.68 L472.8 240.35 L473 239.3 L473.2 244.44 L473.4 239.31 L473.6 238.15 L473.8 246.34 L474 247.24 L474.2 243.91 L474.4 252.14 L474.6 251.37 L474.8 253.96 L475 239.58 L475.2 239.34 L475.4 243.11 L475.6 249.01 L475.8 243.66 L476 243.23 L476.2 248.71 L476.4 248.11 L476.6 253.56 L476.8 247.14 L477 270 L477.2 244.77 L477.4 252.45 L477.6 245.38 L477.8 252.06 L478 250.12 L478.2 254.45 L478.4 247.47 L478.6 248.59 L478.8 259.42 L479 257.31 L479.2 247.92 L479.4 262.08 L479.6 255.19 L479.8 250.54 L480 256.64 L480.2 249.2 L480.4 254.49 L480.6 259.09 L480.8 245.37 L481 251.12 L481.2 251.07 L481.4 259.4 L481.6 246.83 L481.8 247.45 L482 249.93 L482.2 257.24 L482.4 247.85 L482.6 248.86 L482.8 260.27 L483 251.75 L483.2 252.4 L483.4 258.47 L483.6 246.89 L483.8 260.4 L484 258.4 L484.2 248.06 L484.4 255.19 L484.6 258.53 L484.8 259.63 L485 252.31 L485.2 258.38 L485.4 254.38 L485.6 260.64 L485.8 252.06 L486 246.4 L486.2 248.14 L486.4 257.81 L486.6 289 L486.8 257.34 L487 257.86 L487.2 246.27 L487.4 251.12 L487.6 254.76 L487.8 246.01 L488 252.45 L488.2 245.63 L488.4 248.26 L488.6 251.49 L488.8 246.75 L489 242.23 L489.2 255.34 L489.4 244.77 L489.6 244.97 L489.8 248.44 L490 244.81 L490.2 254.93 L490.4 252.75 L490.6 248.06 L490.8 245.18 L491 249.34 L491.2 243.69 L491.4 245.52 L491.6 247.6 L491.8 249.15 L492 240.74 L492.2 246.69 L492.4 245 L492.6 246.62 L492.8 253.19 L493 234 L493.2 240.73 L493.4 248.39 L493.6 253.88 L493.8 241.68 L494 246.38 L494.2 250.78 L494.4 247.35 L494.6 248.22 L494.8 238.83 L495 243.78 L495.2 238.27 L495.4 246.54 L495.6 237.32 L495.8 241.82 L496 240.69 L496.2 247.28 L496.4 248.94 L496.6 256.9 L496.8 246.22 L497 242.47 L497.2 249.4 L497.4 247.87 L497.6 252.25 L497.8 253.75 L498 240.37 L498.2 242.51 L498.4 241.66 L498.6 249.28 L498.8 253.84 L499 243.97 L499.2 247.11 L499.4 243.39 L499.6 249.3 L499.8 244.92 L500 245.52 L500.2 251.99 L500.4 240.97 L500.6 253.49 L500.8 245.8 L501 247.62 L501.2 246.39 L501.4 252.61 L501.6 253.43 L501.8 240.19 L502 243.55 L502.2 247.25 L502.4 248.42 L502.6 240.06 L502.8 240.01 L503 257.42 L503.2 244.17 L503.4 246.54 L503.6 254.83 L503.8 240.92 L504 248.14 L504.2 247.23 L504.4 246.93 L504.6 257.16 L504.8 251.99 L505 248.66 L505.2 243.86 L505.4 251.87 L505.6 240.77 L505.8 251.85 L506 250.09 L506.2 243.94 L506.4 254.35 L506.6 243.48 L506.8 245.08 L507 253.48 L507.2 249.08 L507.4 246.15 L507.6 254.04 L507.8 249.38 L508 241.57 L508.2 253.37 L508.4 255.79 L508.6 250.59 L508.8 246.79 L509 252.96 L509.2 243.5 L509.4 245.64 L509.6 244.27 L509.8 249.36 L510 255.63 L510.2 247.23 L510.4 259.45 L510.6 250.19 L510.8 257.88 L511 254.78 L511.2 273.88 L511.4 262.48 L511.6 266.96 L511.8 265.57 L512 299.5 L512.2 257.49 L512.4 268.53 L512.6 268.55 L512.8 268.07 L513 271.04 L513.2 282 L513.4 284.9 L513.6 275.41 L513.8 271.19 L514 264.51 L514.2 261.1 L514.4 280.16 L514.6 259.34 L514.8 264.42 L515 270.09 L515.2 258.22 L515.4 263.62 L515.6 272.14 L515.8 270.68 L516 270.54 L516.2 263.67 L516.4 264.34 L516.6 266.99 L516.8 256.65 L517 255.39 L517.2 252.86 L517.4 258.22 L517.6 244.34 L517.8 242.07 L518 245.83 L518.2 251.56 L518.4 256.28 L518.6 251.49 L518.8 254.28 L519 255.81 L519.2 257.58 L519.4 253.99 L519.6 256.22 L519.8 253.67 L520 246.48 L520.2 243.59 L520.4 246.97 L520.6 239.06 L520.8 250.89 L521 239.07 L521.2 245 L521.4 253.4 L521.6 248.8 L521.8 247.85 L522 241.57 L522.2 247.8 L522.4 246.1 L522.6 253.61 L522.8 240.52 L523 252.18 L523.2 252.35 L523.4 245.49 L523.6 250.1 L523.8 253.5 L524 244.23 L524.2 245.64 L524.4 243.32 L524.6 253.21 L524.8 250.93 L525 243.9 L525.2 242.73 L525.4 250.9 L525.6 240.85 L525.8 253.32 L526 252.64 L526.2 251.31 L526.4 249.53 L526.6 243.08 L526.8 247.35 L527 244.13 L527.2 257.16 L527.4 249.17 L527.6 246.84 L527.8 255.34 L528 245.58 L528.2 244.43 L528.4 253.32 L528.6 241.2 L528.8 252.63 L529 246.75 L529.2 247.65 L529.4 247.92 L529.6 254.68 L529.8 247.26 L530 247.15 L530.2 249.64 L530.4 247.55 L530.6 244.02 L530.8 242.52 L531 253.09 L531.2 245.29 L531.4 241.35 L531.6 243.97 L531.8 244.25 L532 244.85 L532.2 249.77 L532.4 243.66 L532.6 248.5 L532.8 242.77 L533 247 L533.2 243.85 L533.4 244.02 L533.6 253.05 L533.8 258.82 L534 255.64 L534.2 255.29 L534.4 253.16 L534.6 253.52 L534.8 260.31 L535 264.63 L535.2 263.55 L535.4 263 L535.6 274.09 L535.8 268.55 L536 280.16 L536.2 288.34 L536.4 288.9 L536.6 301 L536.8 280.34 L537 286.6 L537.2 292.55 L537.4 293.55 L537.6 297.32 L537.8 286.76 L538 281.11 L538.2 280.19 L538.4 292.87 L538.6 287.85 L538.8 285.69 L539 299.19 L539.2 285.56 L539.4 287.17 L539.6 276.7 L539.8 287.43 L540 289.69 L540.2 292.04 L540.4 297.13 L540.6 299.07 L540.8 285.84 L541 297.67 L541.2 296.63 L541.4 282.04 L541.6 280.23 L541.8 287.55 L542 278.32 L542.2 288.92 L542.4 277.42 L542.6 281.5 L542.8 282.32 L543 281.87 L543.2 277.2 L543.4 276.03 L543.6 283.79 L543.8 276.7 L544 282.63 L544.2 280.68 L544.4 295.25 L544.6 290.29 L544.8 291.34 L545 294.8 L545.2 277.05 L545.4 292.79 L545.6 293.34 L545.8 280.67 L546 278.53 L546.2 277.42 L546.4 285.84 L546.6 282.9 L546.8 285.2 L547 292.72 L547.2 292.09 L547.4 268.22 L547.6 275.48 L547.8 280.26 L548 282.71 L548.2 270.41 L548.4 279.38 L548.6 284.21 L548.8 289.45 L549 286.41 L549.2 271.38 L549.4 288.28 L549.6 275.61 L549.8 292.75 L550 252 L550.2 273.87 L550.4 273.05 L550.6 271.83 L550.8 275.66 L551 290.17 L551.2 289.12 L551.4 273.73 L551.6 274.52 L551.8 266.78 L552 282.72 L552.2 287.61 L552.4 289.3 L552.6 276.44 L552.8 285.43 L553 270.96 L553.2 278.1 L553.4 269.35 L553.6 273.91 L553.8 276.9 L554 289.12 L554.2 277.44 L554.4 276.92 L554.6 293.6 L554.8 285.63 L555 285.91 L555.2 273.39 L555.4 279.15 L555.6 271.37 L555.8 274.44 L556 290.27 L556.2 274.99 L556.4 284.79 L556.6 268.61 L556.8 269.71 L557 280.11 L557.2 266.69 L557.4 269.42 L557.6 285.66 L557.8 269.19 L558 288.01 L558.2 279.22 L558.4 271.36 L558.6 275.23 L558.8 280.72 L559 271.35 L559.2 272.83 L559.4 315.7 L559.6 274.29 L559.8 268.24 L560 268.62 L560.2 279.48 L560.4 278.66 L560.6 269.73 L560.8 265.97 L561 261.63 L561.2 257.66 L561.4 268.54 L561.6 272.83 L561.8 257.05 L562 260.74 L562.2 259.44 L562.4 265.36 L562.6 259.36 L562.8 260.26 L563 264.49 L563.2 261.45 L563.4 258.7 L563.6 273.9 L563.8 258.77 L564 257.39 L564.2 273.35 L564.4 256.75 L564.6 256.04 L564.8 262.49 L565 273.24 L565.2 266.64 L565.4 269.37 L565.6 265.15 L565.8 260.94 L566 259.6 L566.2 266.22 L566.4 271.75 L566.6 270.79 L566.8 270.61 L567 266.33 L567.2 258.26 L567.4 261.02 L567.6 263.94 L567.8 261.84 L568 272.44 L568.2 257.07 L568.4 262.66 L568.6 257.33 L568.8 259.73 L569 272.47 L569.2 262.32 L569.4 252.79 L569.6 266.45 L569.8 266.5 L570 261.69 L570.2 272.64 L570.4 253.27 L570.6 263.09 L570.8 255.24 L571 275.13 L571.2 271.19 L571.4 269.63 L571.6 255.89 L571.8 269.57 L572 250.38 L572.2 266.32 L572.4 268.37 L572.6 250.01 L572.8 251.63 L573 257.58 L573.2 268.35 L573.4 251.26 L573.6 252.77 L573.8 250.91 L574 258.37 L574.2 251.04 L574.4 264.26 L574.6 250.78 L574.8 249.89 L575 254.7 L575.2 262.28 L575.4 258.17 L575.6 257.61 L575.8 256.06 L576 257.87 L576.2 267.8 L576.4 253.58 L576.6 258.34 L576.8 252.29 L577 263.62 L577.2 252.4 L577.4 254.97 L577.6 258.27 L577.8 264.34 L578 270.86 L578.2 261.78 L578.4 256.91 L578.6 262.95 L578.8 271.02 L579 251.4 L579.2 265.68 L579.4 270.91 L579.6 267.26 L579.8 252.99 L580 255.03 L580.2 267.63 L580.4 259.89 L580.6 262.75 L580.8 270.87 L581 263.24 L581.2 263.86 L581.4 258.62 L581.6 262.77 L581.8 253.06 L582 244.48 L582.2 260.96 L582.4 253.68 L582.6 258.6 L582.8 244.79 L583 279.6 L583.2 260.77 L583.4 266.06 L583.6 244.36 L583.8 261.74 L584 256.22 L584.2 259.24 L584.4 253.95 L584.6 250.43 L584.8 256.61 L585 252.75 L585.2 259.75 L585.4 244.94 L585.6 259.72 L585.8 252.89 L586 248.67 L586.2 261.57 L586.4 252.74 L586.6 253.1 L586.8 254.54 L587 244.93 L587.2 250.02 L587.4 249.23 L587.6 239.37 L587.8 254.64 L588 253.27 L588.2 241.49 L588.4 243.3 L588.6 252.1 L588.8 243.93 L589 249.99 L589.2 244.91 L589.4 250.12 L589.6 242.57 L589.8 253.13 L590 248.33 L590.2 251.52 L590.4 243.12 L590.6 252.11 L590.8 244.99 L591 252.8 L591.2 253.44 L591.4 254.34 L591.6 240.58 L591.8 250.67 L592 240.63 L592.2 251.7 L592.4 245.27 L592.6 242.1 L592.8 257.08 L593 241.06 L593.2 240.7 L593.4 242.48 L593.6 253.78 L593.8 237.09 L594 253.3 L594.2 238.54 L594.4 247.09 L594.6 251.31 L594.8 253.62 L595 241.54 L595.2 238.17 L595.4 248.25 L595.6 237.64 L595.8 248.91 L596 250.04 L596.2 249.19 L596.4 236.92 L596.6 251.4 L596.8 246.95 L597 249.22 L597.2 237.66 L597.4 254.25 L597.6 248.03 L597.8 246.99 L598 239.7 L598.2 255.89 L598.4 233 L598.6 250.91 L598.8 246.54 L599 243.33 L599.2 241.57 L599.4 255.01 L599.6 255.64 L599.8 244.09 L600 256.28 L600.2 251.35 L600.4 242.53 L600.6 249.24 L600.8 243.33 L601 246.8 L601.2 245.77 L601.4 254.32 L601.6 249.65 L601.8 258.89 L602 249.04 L602.2 245.44 L602.4 244 L602.6 244.92 L602.8 241.77 L603 243.58 L603.2 247.35 L603.4 252.97 L603.6 249.25 L603.8 256.22 L604 249.73 L604.2 244.2 L604.4 260.24 L604.6 252.55 L604.8 248.36 L605 265.34 L605.2 249.61 L605.4 259.73 L605.6 262.84 L605.8 254.96 L606 252.18 L606.2 250.12 L606.4 260.06 L606.6 247.29 L606.8 252.66 L607 260.37 L607.2 256.47 L607.4 251.95 L607.6 247.29 L607.8 259.05 L608 251.35 L608.2 262.34 L608.4 247.45 L608.6 261.92 L608.8 252.77 L609 256.73 L609.2 253.05 L609.4 253.84 L609.6 261.45 L609.8 260.76 L610 245.73 L610.2 257.59 L610.4 265.44 L610.6 264.03 L610.8 264.4 L611 265.07 L611.2 261 L611.4 264.18 L611.6 250.99 L611.8 261.58 L612 248.97 L612.2 260.43 L612.4 255.28 L612.6 253.93 L612.8 257.72 L613 256.91 L613.2 258.47 L613.4 264.06 L613.6 250.17 L613.8 254.41 L614 251.6 L614.2 253.28 L614.4 263.38 L614.6 263.18 L614.8 263.14 L615 262.07 L615.2 250.68 L615.4 259.9 L615.6 258.33 L615.8 264.31 L616 251.17 L616.2 281.4 L616.4 252.96 L616.6 249.57 L616.8 263.66 L617 263.83 L617.2 256.16 L617.4 264.06 L617.6 251.74 L617.8 260.74 L618 249.89 L618.2 255.97 L618.4 248.31 L618.6 259.86 L618.8 252.39 L619 254.66 L619.2 250.37 L619.4 263.93 L619.6 248.04 L619.8 260.47 L620 255.86 L620.2 264.4 L620.4 262.69 L620.6 256.49 L620.8 248.94 L621 250.14 L621.2 264.85 L621.4 255.1 L621.6 263.49 L621.8 252.44 L622 253.11 L622.2 255.56 L622.4 262.61 L622.6 263.82 L622.8 264.13 L623 262.7 L623.2 248.64 L623.4 253.6 L623.6 264.35 L623.8 259.34 L624 254.46 L624.2 252.47 L624.4 254.85 L624.6 253.57 L624.8 258.72 L625 255.85 L625.2 246.6 L625.4 263.52 L625.6 261.44 L625.8 257.29 L626 262.65 L626.2 248.21 L626.4 260.79 L626.6 259.71 L626.8 257.43 L627 250.72 L627.2 247.95 L627.4 259.4 L627.6 254.29 L627.8 256.76 L628 254.34 L628.2 249.08 L628.4 250.7 L628.6 256.39 L628.8 252.85 L629 248.4 L629.2 247.72 L629.4 256.32 L629.6 249.63 L629.8 259.65" fill="none" stroke="#aedb92" stroke-width="0.75" stroke-linejoin="round"/>
<path d="M412.2 228.9 H630.2 V320.2" fill="none" stroke="#9a9a9a" stroke-width="1.4"/>
<path d="M412.2 228.9 V320.2" fill="none" stroke="#c8c8c8" stroke-width="1"/>
<path d="M412.2 320.2 H630.2" fill="none" stroke="#9a9a9a" stroke-width="1.4"/>
<line x1="412.2" y1="320.2" x2="412.2" y2="325.7" stroke="#999" stroke-width="0.8"/>
<line x1="439.45" y1="320.2" x2="439.45" y2="325.7" stroke="#999" stroke-width="0.8"/>
<line x1="466.7" y1="320.2" x2="466.7" y2="325.7" stroke="#999" stroke-width="0.8"/>
<line x1="493.95" y1="320.2" x2="493.95" y2="325.7" stroke="#999" stroke-width="0.8"/>
<line x1="521.2" y1="320.2" x2="521.2" y2="325.7" stroke="#999" stroke-width="0.8"/>
<line x1="548.45" y1="320.2" x2="548.45" y2="325.7" stroke="#999" stroke-width="0.8"/>
<line x1="575.7" y1="320.2" x2="575.7" y2="325.7" stroke="#999" stroke-width="0.8"/>
<line x1="602.95" y1="320.2" x2="602.95" y2="325.7" stroke="#999" stroke-width="0.8"/>
<line x1="630.2" y1="320.2" x2="630.2" y2="325.7" stroke="#999" stroke-width="0.8"/>
<line x1="410.2" y1="320.1" x2="412.2" y2="320.1" stroke="#777" stroke-width="1"/>
<text transform="translate(408 320.1) rotate(-90)" x="0" y="0" font-size="8.2" fill="#8e8e8e" text-anchor="middle" textLength="10" lengthAdjust="spacingAndGlyphs">4.8</text>
<line x1="410.2" y1="295.9" x2="412.2" y2="295.9" stroke="#777" stroke-width="1"/>
<text transform="translate(408 295.9) rotate(-90)" x="0" y="0" font-size="8.2" fill="#8e8e8e" text-anchor="middle" textLength="10" lengthAdjust="spacingAndGlyphs">5.2</text>
<line x1="410.2" y1="271.7" x2="412.2" y2="271.7" stroke="#777" stroke-width="1"/>
<text transform="translate(408 271.7) rotate(-90)" x="0" y="0" font-size="8.2" fill="#8e8e8e" text-anchor="middle" textLength="10" lengthAdjust="spacingAndGlyphs">5.6</text>
<line x1="410.2" y1="247.5" x2="412.2" y2="247.5" stroke="#777" stroke-width="1"/>
<text transform="translate(408 247.5) rotate(-90)" x="0" y="0" font-size="8.2" fill="#8e8e8e" text-anchor="middle" textLength="10" lengthAdjust="spacingAndGlyphs">6.0</text>
<text transform="translate(400.2 272.8) rotate(-90)" x="0" y="0" font-size="6" fill="#a8a8a8" text-anchor="middle" textLength="50" lengthAdjust="spacingAndGlyphs">rGyr (Å)</text>
<rect x="634" y="228.9" width="46.4" height="91.3" fill="none" stroke="#b0b0b0" stroke-width="1"/>
<path d="M634 228.9 H680.4" fill="none" stroke="#9a9a9a" stroke-width="1.4"/>
<path d="M634 320.2 H680.4" fill="none" stroke="#9a9a9a" stroke-width="1.4"/>
<rect x="634.5" y="234.2" width="8.5" height="5.3" fill="#a8d88c"/>
<rect x="634.5" y="242.9" width="40.9" height="5.3" fill="#a8d88c"/>
<rect x="634.5" y="251.1" width="43.4" height="5.3" fill="#a8d88c"/>
<rect x="634.5" y="259.5" width="25.5" height="5.3" fill="#a8d88c"/>
<rect x="634.5" y="267.6" width="12.3" height="5.3" fill="#a8d88c"/>
<rect x="634.5" y="276" width="8.5" height="5.3" fill="#a8d88c"/>
<rect x="634.5" y="284.3" width="7" height="5.3" fill="#a8d88c"/>
<rect x="634.5" y="292.6" width="2.3" height="5.3" fill="#a8d88c"/>
<line x1="632.2" y1="320.1" x2="634" y2="320.1" stroke="#666" stroke-width="1"/>
<line x1="632.2" y1="295.9" x2="634" y2="295.9" stroke="#666" stroke-width="1"/>
<line x1="632.2" y1="271.7" x2="634" y2="271.7" stroke="#666" stroke-width="1"/>
<line x1="632.2" y1="247.5" x2="634" y2="247.5" stroke="#666" stroke-width="1"/>
<rect x="651.3" y="327.6" width="1" height="3.6" fill="#c4c4c4"/>
<rect x="655.3" y="327.6" width="1" height="3.6" fill="#c4c4c4"/>
<rect x="659.8" y="327.6" width="1" height="3.6" fill="#c4c4c4"/>
<text x="323.1" y="374.8" font-size="12.2" fill="#222" font-weight="bold" textLength="55" lengthAdjust="spacingAndGlyphs">(a, b, c, d)</text>
</svg></div>
</body></html>
